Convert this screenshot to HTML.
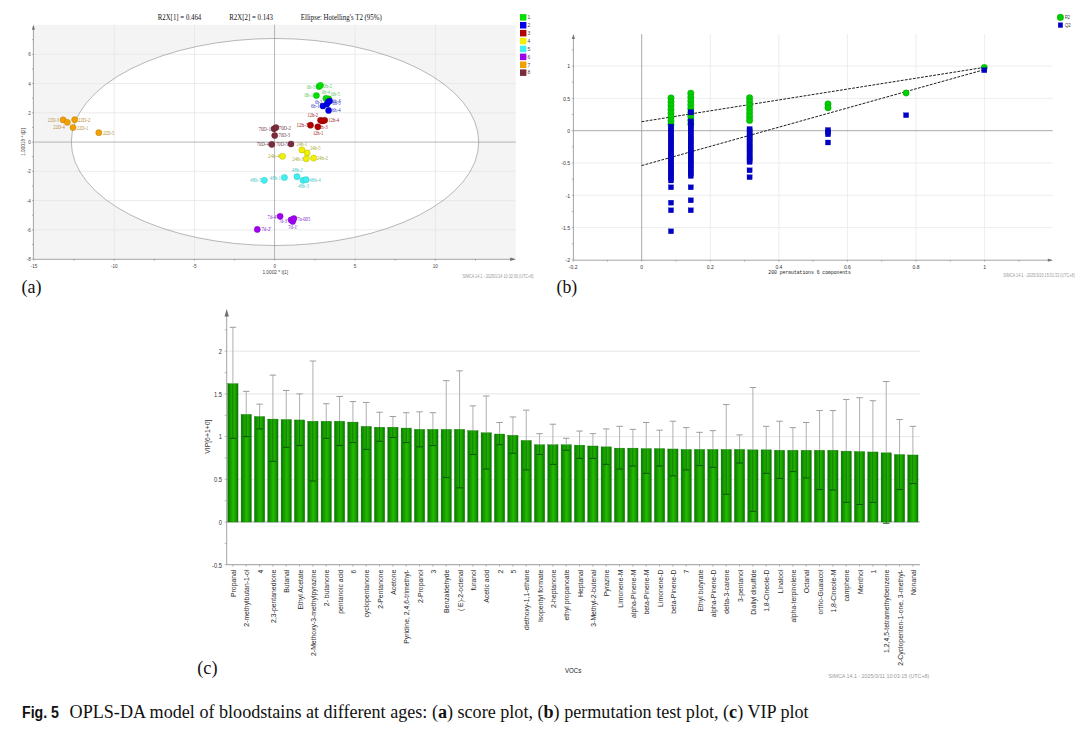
<!DOCTYPE html><html><head><meta charset="utf-8"><style>html,body{margin:0;padding:0;background:#fff;}svg{display:block;}</style></head><body>
<svg width="1090" height="730" viewBox="0 0 1090 730">
<rect width="1090" height="730" fill="#fff"/>
<defs><clipPath id="clipA"><rect x="33.4" y="24.7" width="482.4" height="234.60000000000002"/></clipPath></defs>
<rect x="33.4" y="24.7" width="482.4" height="234.60000000000002" fill="#f4f4f4"/>
<g clip-path="url(#clipA)"><ellipse cx="275" cy="142" rx="203.7" ry="103.5" fill="#fff"/></g>
<line x1="114.24" y1="24.7" x2="114.24" y2="259.3" stroke="#e6e6e6" stroke-width="0.8"/>
<line x1="194.52" y1="24.7" x2="194.52" y2="259.3" stroke="#e6e6e6" stroke-width="0.8"/>
<line x1="355.08" y1="24.7" x2="355.08" y2="259.3" stroke="#e6e6e6" stroke-width="0.8"/>
<line x1="435.36" y1="24.7" x2="435.36" y2="259.3" stroke="#e6e6e6" stroke-width="0.8"/>
<line x1="33.4" y1="229.86" x2="515.8" y2="229.86" stroke="#e6e6e6" stroke-width="0.8"/>
<line x1="33.4" y1="200.60" x2="515.8" y2="200.60" stroke="#e6e6e6" stroke-width="0.8"/>
<line x1="33.4" y1="171.34" x2="515.8" y2="171.34" stroke="#e6e6e6" stroke-width="0.8"/>
<line x1="33.4" y1="112.82" x2="515.8" y2="112.82" stroke="#e6e6e6" stroke-width="0.8"/>
<line x1="33.4" y1="83.56" x2="515.8" y2="83.56" stroke="#e6e6e6" stroke-width="0.8"/>
<line x1="33.4" y1="54.30" x2="515.8" y2="54.30" stroke="#e6e6e6" stroke-width="0.8"/>
<line x1="274.55" y1="24.7" x2="274.55" y2="259.3" stroke="#aaaaaa" stroke-width="0.85"/>
<line x1="33.4" y1="142.08" x2="515.8" y2="142.08" stroke="#aaaaaa" stroke-width="0.85"/>
<g clip-path="url(#clipA)"><ellipse cx="275" cy="142" rx="203.7" ry="103.5" fill="none" stroke="#8a8a8a" stroke-width="0.6"/></g>
<line x1="33.4" y1="26.7" x2="33.4" y2="259.3" stroke="#9a9a9a" stroke-width="0.9"/>
<line x1="33.4" y1="259.3" x2="514.8" y2="259.3" stroke="#9a9a9a" stroke-width="0.9"/>
<path d="M31.799999999999997,29.7 L33.4,24.7 L35.0,29.7 Z" fill="#777"/>
<path d="M510.19999999999993,257.6 L515.8,259.3 L510.19999999999993,261.0 Z" fill="#707070"/>
<line x1="33.96" y1="259.3" x2="33.96" y2="260.8" stroke="#888" stroke-width="0.6"/>
<line x1="74.10" y1="259.3" x2="74.10" y2="260.8" stroke="#888" stroke-width="0.6"/>
<line x1="114.24" y1="259.3" x2="114.24" y2="260.8" stroke="#888" stroke-width="0.6"/>
<line x1="154.38" y1="259.3" x2="154.38" y2="260.8" stroke="#888" stroke-width="0.6"/>
<line x1="194.52" y1="259.3" x2="194.52" y2="260.8" stroke="#888" stroke-width="0.6"/>
<line x1="234.66" y1="259.3" x2="234.66" y2="260.8" stroke="#888" stroke-width="0.6"/>
<line x1="274.80" y1="259.3" x2="274.80" y2="260.8" stroke="#888" stroke-width="0.6"/>
<line x1="314.94" y1="259.3" x2="314.94" y2="260.8" stroke="#888" stroke-width="0.6"/>
<line x1="355.08" y1="259.3" x2="355.08" y2="260.8" stroke="#888" stroke-width="0.6"/>
<line x1="395.22" y1="259.3" x2="395.22" y2="260.8" stroke="#888" stroke-width="0.6"/>
<line x1="435.36" y1="259.3" x2="435.36" y2="260.8" stroke="#888" stroke-width="0.6"/>
<line x1="475.50" y1="259.3" x2="475.50" y2="260.8" stroke="#888" stroke-width="0.6"/>
<line x1="31.9" y1="259.12" x2="33.4" y2="259.12" stroke="#888" stroke-width="0.6"/>
<line x1="31.9" y1="244.49" x2="33.4" y2="244.49" stroke="#888" stroke-width="0.6"/>
<line x1="31.9" y1="229.86" x2="33.4" y2="229.86" stroke="#888" stroke-width="0.6"/>
<line x1="31.9" y1="215.23" x2="33.4" y2="215.23" stroke="#888" stroke-width="0.6"/>
<line x1="31.9" y1="200.60" x2="33.4" y2="200.60" stroke="#888" stroke-width="0.6"/>
<line x1="31.9" y1="185.97" x2="33.4" y2="185.97" stroke="#888" stroke-width="0.6"/>
<line x1="31.9" y1="171.34" x2="33.4" y2="171.34" stroke="#888" stroke-width="0.6"/>
<line x1="31.9" y1="156.71" x2="33.4" y2="156.71" stroke="#888" stroke-width="0.6"/>
<line x1="31.9" y1="142.08" x2="33.4" y2="142.08" stroke="#888" stroke-width="0.6"/>
<line x1="31.9" y1="127.45" x2="33.4" y2="127.45" stroke="#888" stroke-width="0.6"/>
<line x1="31.9" y1="112.82" x2="33.4" y2="112.82" stroke="#888" stroke-width="0.6"/>
<line x1="31.9" y1="98.19" x2="33.4" y2="98.19" stroke="#888" stroke-width="0.6"/>
<line x1="31.9" y1="83.56" x2="33.4" y2="83.56" stroke="#888" stroke-width="0.6"/>
<line x1="31.9" y1="68.93" x2="33.4" y2="68.93" stroke="#888" stroke-width="0.6"/>
<line x1="31.9" y1="54.30" x2="33.4" y2="54.30" stroke="#888" stroke-width="0.6"/>
<line x1="31.9" y1="39.67" x2="33.4" y2="39.67" stroke="#888" stroke-width="0.6"/>
<text transform="translate(33.96,268.3) scale(0.82,1)" font-family="'Liberation Sans', sans-serif" font-size="5.6" fill="#444" text-anchor="middle">-15</text>
<text transform="translate(114.24,268.3) scale(0.82,1)" font-family="'Liberation Sans', sans-serif" font-size="5.6" fill="#444" text-anchor="middle">-10</text>
<text transform="translate(194.52,268.3) scale(0.82,1)" font-family="'Liberation Sans', sans-serif" font-size="5.6" fill="#444" text-anchor="middle">-5</text>
<text transform="translate(274.80,268.3) scale(0.82,1)" font-family="'Liberation Sans', sans-serif" font-size="5.6" fill="#444" text-anchor="middle">0</text>
<text transform="translate(355.08,268.3) scale(0.82,1)" font-family="'Liberation Sans', sans-serif" font-size="5.6" fill="#444" text-anchor="middle">5</text>
<text transform="translate(435.36,268.3) scale(0.82,1)" font-family="'Liberation Sans', sans-serif" font-size="5.6" fill="#444" text-anchor="middle">10</text>
<text transform="translate(30.9,261.12) scale(0.82,1)" font-family="'Liberation Sans', sans-serif" font-size="5.6" fill="#444" text-anchor="end">-8</text>
<text transform="translate(30.9,231.86) scale(0.82,1)" font-family="'Liberation Sans', sans-serif" font-size="5.6" fill="#444" text-anchor="end">-6</text>
<text transform="translate(30.9,202.60) scale(0.82,1)" font-family="'Liberation Sans', sans-serif" font-size="5.6" fill="#444" text-anchor="end">-4</text>
<text transform="translate(30.9,173.34) scale(0.82,1)" font-family="'Liberation Sans', sans-serif" font-size="5.6" fill="#444" text-anchor="end">-2</text>
<text transform="translate(30.9,144.08) scale(0.82,1)" font-family="'Liberation Sans', sans-serif" font-size="5.6" fill="#444" text-anchor="end">0</text>
<text transform="translate(30.9,114.82) scale(0.82,1)" font-family="'Liberation Sans', sans-serif" font-size="5.6" fill="#444" text-anchor="end">2</text>
<text transform="translate(30.9,85.56) scale(0.82,1)" font-family="'Liberation Sans', sans-serif" font-size="5.6" fill="#444" text-anchor="end">4</text>
<text transform="translate(30.9,56.30) scale(0.82,1)" font-family="'Liberation Sans', sans-serif" font-size="5.6" fill="#444" text-anchor="end">6</text>
<text x="262.4" y="274.4" font-family="'Liberation Sans', sans-serif" font-size="5" fill="#444" textLength="25.6" lengthAdjust="spacingAndGlyphs">1.0002 * t[1]</text>
<text transform="translate(25.3,155.8) rotate(-90)" font-family="'Liberation Sans', sans-serif" font-size="4.8" fill="#444" textLength="27.8" lengthAdjust="spacingAndGlyphs">1.00018 * t[2]</text>
<text x="462.4" y="277.8" font-family="'Liberation Sans', sans-serif" font-size="4.6" fill="#999" textLength="71.2" lengthAdjust="spacingAndGlyphs">SIMCA 14.1 - 2025/1/14 10:32:00 (UTC+8)</text>
<text x="157.7" y="20.1" font-family='"Liberation Serif", serif' font-size="7.2" fill="#111" textLength="43.6" lengthAdjust="spacingAndGlyphs">R2X[1] = 0.464</text>
<text x="229.3" y="20.1" font-family='"Liberation Serif", serif' font-size="7.2" fill="#111" textLength="43.6" lengthAdjust="spacingAndGlyphs">R2X[2] = 0.143</text>
<text x="300.8" y="20.1" font-family='"Liberation Serif", serif' font-size="7.2" fill="#111" textLength="81" lengthAdjust="spacingAndGlyphs">Ellipse: Hotelling's T2 (95%)</text>
<rect x="520.0" y="14.10" width="6.4" height="6.5" fill="#00e000"/>
<text x="527.5" y="19.10" font-family="'Liberation Sans', sans-serif" font-size="5" fill="#444">1</text>
<rect x="520.0" y="22.00" width="6.4" height="6.5" fill="#0000e8"/>
<text x="527.5" y="27.00" font-family="'Liberation Sans', sans-serif" font-size="5" fill="#444">2</text>
<rect x="520.0" y="29.90" width="6.4" height="6.5" fill="#b00000"/>
<text x="527.5" y="34.90" font-family="'Liberation Sans', sans-serif" font-size="5" fill="#444">3</text>
<rect x="520.0" y="37.80" width="6.4" height="6.5" fill="#f0f000"/>
<text x="527.5" y="42.80" font-family="'Liberation Sans', sans-serif" font-size="5" fill="#444">4</text>
<rect x="520.0" y="45.70" width="6.4" height="6.5" fill="#40f0f0"/>
<text x="527.5" y="50.70" font-family="'Liberation Sans', sans-serif" font-size="5" fill="#444">5</text>
<rect x="520.0" y="53.60" width="6.4" height="6.5" fill="#a000f0"/>
<text x="527.5" y="58.60" font-family="'Liberation Sans', sans-serif" font-size="5" fill="#444">6</text>
<rect x="520.0" y="61.50" width="6.4" height="6.5" fill="#f0a000"/>
<text x="527.5" y="66.50" font-family="'Liberation Sans', sans-serif" font-size="5" fill="#444">7</text>
<rect x="520.0" y="69.40" width="6.4" height="6.5" fill="#7a2c3c"/>
<text x="527.5" y="74.40" font-family="'Liberation Sans', sans-serif" font-size="5" fill="#444">8</text>
<text x="306.7" y="88.70" font-family='"Liberation Serif", serif' font-size="6.2" fill="#66c466" textLength="8.3" lengthAdjust="spacingAndGlyphs">0h-3</text>
<text x="323.3" y="87.90" font-family='"Liberation Serif", serif' font-size="6.2" fill="#66c466" textLength="8.7" lengthAdjust="spacingAndGlyphs">0h-2</text>
<text x="304.4" y="97.20" font-family='"Liberation Serif", serif' font-size="6.2" fill="#66c466" textLength="8.9" lengthAdjust="spacingAndGlyphs">0h-1</text>
<text x="321.8" y="93.90" font-family='"Liberation Serif", serif' font-size="6.2" fill="#66c466" textLength="8.2" lengthAdjust="spacingAndGlyphs">0h-4</text>
<text x="331" y="96.40" font-family='"Liberation Serif", serif' font-size="6.2" fill="#66c466" textLength="9.0" lengthAdjust="spacingAndGlyphs">0h-5</text>
<text x="315" y="103.90" font-family='"Liberation Serif", serif' font-size="6.2" fill="#3535c0" textLength="7.0" lengthAdjust="spacingAndGlyphs">6h-2</text>
<text x="331.8" y="103.30" font-family='"Liberation Serif", serif' font-size="6.2" fill="#3535c0" textLength="8.9" lengthAdjust="spacingAndGlyphs">6h-3</text>
<text x="332.2" y="104.50" font-family='"Liberation Serif", serif' font-size="6.2" fill="#3535c0" textLength="8.5" lengthAdjust="spacingAndGlyphs">6h-5</text>
<text x="311" y="108.00" font-family='"Liberation Serif", serif' font-size="6.2" fill="#3535c0" textLength="8.5" lengthAdjust="spacingAndGlyphs">6h-1</text>
<text x="332" y="112.10" font-family='"Liberation Serif", serif' font-size="6.2" fill="#3535c0" textLength="8.7" lengthAdjust="spacingAndGlyphs">6h-4</text>
<text x="307.4" y="116.70" font-family='"Liberation Serif", serif' font-size="6.2" fill="#a02020" textLength="10.6" lengthAdjust="spacingAndGlyphs">12h-2</text>
<text x="328.4" y="122.10" font-family='"Liberation Serif", serif' font-size="6.2" fill="#a02020" textLength="10.6" lengthAdjust="spacingAndGlyphs">12h-4</text>
<text x="296.4" y="127.20" font-family='"Liberation Serif", serif' font-size="6.2" fill="#a02020" textLength="12.1" lengthAdjust="spacingAndGlyphs">12h-5</text>
<text x="316.5" y="129.00" font-family='"Liberation Serif", serif' font-size="6.2" fill="#a02020" textLength="11.2" lengthAdjust="spacingAndGlyphs">12h-3</text>
<text x="312.9" y="135.40" font-family='"Liberation Serif", serif' font-size="6.2" fill="#a02020" textLength="10.4" lengthAdjust="spacingAndGlyphs">12h-1</text>
<text x="258.5" y="130.90" font-family='"Liberation Serif", serif' font-size="6.2" fill="#704050" textLength="12.3" lengthAdjust="spacingAndGlyphs">70D-1</text>
<text x="278.8" y="129.90" font-family='"Liberation Serif", serif' font-size="6.2" fill="#704050" textLength="12.2" lengthAdjust="spacingAndGlyphs">70D-2</text>
<text x="278.4" y="137.20" font-family='"Liberation Serif", serif' font-size="6.2" fill="#704050" textLength="11.6" lengthAdjust="spacingAndGlyphs">70D-3</text>
<text x="256.7" y="146.10" font-family='"Liberation Serif", serif' font-size="6.2" fill="#704050" textLength="12.1" lengthAdjust="spacingAndGlyphs">70D-4</text>
<text x="275.9" y="146.10" font-family='"Liberation Serif", serif' font-size="6.2" fill="#704050" textLength="12.1" lengthAdjust="spacingAndGlyphs">70D-5</text>
<text x="296.4" y="145.70" font-family='"Liberation Serif", serif' font-size="6.2" fill="#a8a838" textLength="10.7" lengthAdjust="spacingAndGlyphs">24h-1</text>
<text x="309.9" y="149.70" font-family='"Liberation Serif", serif' font-size="6.2" fill="#a8a838" textLength="10.6" lengthAdjust="spacingAndGlyphs">24h-5</text>
<text x="268" y="158.40" font-family='"Liberation Serif", serif' font-size="6.2" fill="#a8a838" textLength="11.7" lengthAdjust="spacingAndGlyphs">24h-4</text>
<text x="292.3" y="160.70" font-family='"Liberation Serif", serif' font-size="6.2" fill="#a8a838" textLength="11.4" lengthAdjust="spacingAndGlyphs">24h-3</text>
<text x="316.7" y="160.10" font-family='"Liberation Serif", serif' font-size="6.2" fill="#a8a838" textLength="11.3" lengthAdjust="spacingAndGlyphs">24h-2</text>
<text x="291.8" y="172.40" font-family='"Liberation Serif", serif' font-size="6.2" fill="#50c8c8" textLength="10.9" lengthAdjust="spacingAndGlyphs">48h-2</text>
<text x="250" y="182.00" font-family='"Liberation Serif", serif' font-size="6.2" fill="#50c8c8" textLength="11.4" lengthAdjust="spacingAndGlyphs">48h-5</text>
<text x="269.8" y="179.50" font-family='"Liberation Serif", serif' font-size="6.2" fill="#50c8c8" textLength="11.0" lengthAdjust="spacingAndGlyphs">48h-1</text>
<text x="309.3" y="181.70" font-family='"Liberation Serif", serif' font-size="6.2" fill="#50c8c8" textLength="11.3" lengthAdjust="spacingAndGlyphs">48h-4</text>
<text x="297.9" y="188.20" font-family='"Liberation Serif", serif' font-size="6.2" fill="#50c8c8" textLength="11.0" lengthAdjust="spacingAndGlyphs">48h-3</text>
<text x="267.6" y="218.50" font-family='"Liberation Serif", serif' font-size="6.2" fill="#7a25c8" textLength="9.6" lengthAdjust="spacingAndGlyphs">7d-4'</text>
<text x="278.9" y="222.50" font-family='"Liberation Serif", serif' font-size="6.2" fill="#7a25c8" textLength="8.7" lengthAdjust="spacingAndGlyphs">7d-3'</text>
<text x="297.2" y="221.10" font-family='"Liberation Serif", serif' font-size="6.2" fill="#7a25c8" textLength="13.0" lengthAdjust="spacingAndGlyphs">7u-005</text>
<text x="288.2" y="229.00" font-family='"Liberation Serif", serif' font-size="6.2" fill="#7a25c8" textLength="9.5" lengthAdjust="spacingAndGlyphs">7d-1'</text>
<text x="261.4" y="231.30" font-family='"Liberation Serif", serif' font-size="6.2" fill="#7a25c8" textLength="9.8" lengthAdjust="spacingAndGlyphs">7d-2'</text>
<text x="47.8" y="122.00" font-family='"Liberation Serif", serif' font-size="6.2" fill="#b88a3a" textLength="11.2" lengthAdjust="spacingAndGlyphs">22D-3</text>
<text x="78" y="121.80" font-family='"Liberation Serif", serif' font-size="6.2" fill="#b88a3a" textLength="12.4" lengthAdjust="spacingAndGlyphs">22D-2</text>
<text x="53.2" y="129.40" font-family='"Liberation Serif", serif' font-size="6.2" fill="#b88a3a" textLength="11.6" lengthAdjust="spacingAndGlyphs">22D-4</text>
<text x="76.7" y="129.80" font-family='"Liberation Serif", serif' font-size="6.2" fill="#b88a3a" textLength="11.6" lengthAdjust="spacingAndGlyphs">22D-1</text>
<text x="102.9" y="134.80" font-family='"Liberation Serif", serif' font-size="6.2" fill="#b88a3a" textLength="11.4" lengthAdjust="spacingAndGlyphs">22D-5</text>
<circle cx="63.1" cy="119.9" r="3.1" fill="#f0a000" stroke="#b07000" stroke-width="0.35"/>
<circle cx="67.3" cy="122.3" r="3.1" fill="#f0a000" stroke="#b07000" stroke-width="0.35"/>
<circle cx="74.7" cy="119.7" r="3.1" fill="#f0a000" stroke="#b07000" stroke-width="0.35"/>
<circle cx="73" cy="127.5" r="3.1" fill="#f0a000" stroke="#b07000" stroke-width="0.35"/>
<circle cx="98.8" cy="132.7" r="3.1" fill="#f0a000" stroke="#b07000" stroke-width="0.35"/>
<circle cx="319.0" cy="86.6" r="3.1" fill="#00e000" stroke="#00a000" stroke-width="0.35"/>
<circle cx="320.4" cy="85.4" r="3.1" fill="#00e000" stroke="#00a000" stroke-width="0.35"/>
<circle cx="316.4" cy="95.5" r="3.1" fill="#00e000" stroke="#00a000" stroke-width="0.35"/>
<circle cx="325.9" cy="98.4" r="3.1" fill="#00e000" stroke="#00a000" stroke-width="0.35"/>
<circle cx="328.7" cy="98.9" r="3.1" fill="#00e000" stroke="#00a000" stroke-width="0.35"/>
<circle cx="328.4" cy="101.8" r="3.1" fill="#0000e8" stroke="#0000a0" stroke-width="0.35"/>
<circle cx="327.0" cy="104.0" r="3.1" fill="#0000e8" stroke="#0000a0" stroke-width="0.35"/>
<circle cx="322.9" cy="106" r="3.1" fill="#0000e8" stroke="#0000a0" stroke-width="0.35"/>
<circle cx="328.6" cy="110.4" r="3.1" fill="#0000e8" stroke="#0000a0" stroke-width="0.35"/>
<circle cx="329.5" cy="101.0" r="3.1" fill="#0000e8" stroke="#0000a0" stroke-width="0.35"/>
<circle cx="320.5" cy="120.3" r="3.1" fill="#b00000" stroke="#800000" stroke-width="0.35"/>
<circle cx="324.7" cy="120.3" r="3.1" fill="#b00000" stroke="#800000" stroke-width="0.35"/>
<circle cx="322.5" cy="121.0" r="3.1" fill="#b00000" stroke="#800000" stroke-width="0.35"/>
<circle cx="310.5" cy="125.2" r="3.1" fill="#b00000" stroke="#800000" stroke-width="0.35"/>
<circle cx="317.8" cy="126.8" r="3.1" fill="#b00000" stroke="#800000" stroke-width="0.35"/>
<circle cx="274.0" cy="128.8" r="3.1" fill="#7a2c3c" stroke="#5a1a28" stroke-width="0.35"/>
<circle cx="275.9" cy="127.6" r="3.1" fill="#7a2c3c" stroke="#5a1a28" stroke-width="0.35"/>
<circle cx="274.7" cy="135.5" r="3.1" fill="#7a2c3c" stroke="#5a1a28" stroke-width="0.35"/>
<circle cx="271.8" cy="144.4" r="3.1" fill="#7a2c3c" stroke="#5a1a28" stroke-width="0.35"/>
<circle cx="291" cy="144" r="3.1" fill="#7a2c3c" stroke="#5a1a28" stroke-width="0.35"/>
<circle cx="301.9" cy="149.9" r="3.1" fill="#f0f000" stroke="#a0a000" stroke-width="0.35"/>
<circle cx="307.1" cy="152.9" r="3.1" fill="#f0f000" stroke="#a0a000" stroke-width="0.35"/>
<circle cx="282.5" cy="156.3" r="3.1" fill="#f0f000" stroke="#a0a000" stroke-width="0.35"/>
<circle cx="306.4" cy="158.8" r="3.1" fill="#f0f000" stroke="#a0a000" stroke-width="0.35"/>
<circle cx="313.6" cy="158.1" r="3.1" fill="#f0f000" stroke="#a0a000" stroke-width="0.35"/>
<circle cx="264.3" cy="180.3" r="3.1" fill="#40f0f0" stroke="#20b0b0" stroke-width="0.35"/>
<circle cx="284.4" cy="177.5" r="3.1" fill="#40f0f0" stroke="#20b0b0" stroke-width="0.35"/>
<circle cx="297" cy="176.7" r="3.1" fill="#40f0f0" stroke="#20b0b0" stroke-width="0.35"/>
<circle cx="303" cy="180.3" r="3.1" fill="#40f0f0" stroke="#20b0b0" stroke-width="0.35"/>
<circle cx="306.1" cy="179.7" r="3.1" fill="#40f0f0" stroke="#20b0b0" stroke-width="0.35"/>
<circle cx="280.1" cy="216.3" r="3.1" fill="#a000f0" stroke="#7000b0" stroke-width="0.35"/>
<circle cx="291.1" cy="219.9" r="3.1" fill="#a000f0" stroke="#7000b0" stroke-width="0.35"/>
<circle cx="292.7" cy="221.4" r="3.1" fill="#a000f0" stroke="#7000b0" stroke-width="0.35"/>
<circle cx="293.9" cy="218.5" r="3.1" fill="#a000f0" stroke="#7000b0" stroke-width="0.35"/>
<circle cx="257.3" cy="229.4" r="3.1" fill="#a000f0" stroke="#7000b0" stroke-width="0.35"/>
<line x1="710.28" y1="34.1" x2="710.28" y2="260.2" stroke="#e8e8e8" stroke-width="0.8"/>
<line x1="778.86" y1="34.1" x2="778.86" y2="260.2" stroke="#e8e8e8" stroke-width="0.8"/>
<line x1="847.44" y1="34.1" x2="847.44" y2="260.2" stroke="#e8e8e8" stroke-width="0.8"/>
<line x1="916.02" y1="34.1" x2="916.02" y2="260.2" stroke="#e8e8e8" stroke-width="0.8"/>
<line x1="984.60" y1="34.1" x2="984.60" y2="260.2" stroke="#e8e8e8" stroke-width="0.8"/>
<line x1="573.4" y1="227.60" x2="1052.8" y2="227.60" stroke="#e8e8e8" stroke-width="0.8"/>
<line x1="573.4" y1="195.30" x2="1052.8" y2="195.30" stroke="#e8e8e8" stroke-width="0.8"/>
<line x1="573.4" y1="163.00" x2="1052.8" y2="163.00" stroke="#e8e8e8" stroke-width="0.8"/>
<line x1="573.4" y1="98.40" x2="1052.8" y2="98.40" stroke="#e8e8e8" stroke-width="0.8"/>
<line x1="573.4" y1="66.10" x2="1052.8" y2="66.10" stroke="#e8e8e8" stroke-width="0.8"/>
<line x1="641.70" y1="34.1" x2="641.70" y2="260.2" stroke="#a0a0a0" stroke-width="0.9"/>
<line x1="573.4" y1="130.70" x2="1052.8" y2="130.70" stroke="#a0a0a0" stroke-width="0.9"/>
<line x1="573.4" y1="36.1" x2="573.4" y2="260.2" stroke="#9a9a9a" stroke-width="0.9"/>
<line x1="573.4" y1="260.2" x2="1051.8" y2="260.2" stroke="#9a9a9a" stroke-width="0.9"/>
<path d="M571.8,39.1 L573.4,34.1 L575.0,39.1 Z" fill="#777"/>
<path d="M1047.8,258.59999999999997 L1052.8,260.2 L1047.8,261.8 Z" fill="#777"/>
<line x1="573.12" y1="260.2" x2="573.12" y2="261.7" stroke="#888" stroke-width="0.6"/>
<line x1="607.41" y1="260.2" x2="607.41" y2="261.7" stroke="#888" stroke-width="0.6"/>
<line x1="641.70" y1="260.2" x2="641.70" y2="261.7" stroke="#888" stroke-width="0.6"/>
<line x1="675.99" y1="260.2" x2="675.99" y2="261.7" stroke="#888" stroke-width="0.6"/>
<line x1="710.28" y1="260.2" x2="710.28" y2="261.7" stroke="#888" stroke-width="0.6"/>
<line x1="744.57" y1="260.2" x2="744.57" y2="261.7" stroke="#888" stroke-width="0.6"/>
<line x1="778.86" y1="260.2" x2="778.86" y2="261.7" stroke="#888" stroke-width="0.6"/>
<line x1="813.15" y1="260.2" x2="813.15" y2="261.7" stroke="#888" stroke-width="0.6"/>
<line x1="847.44" y1="260.2" x2="847.44" y2="261.7" stroke="#888" stroke-width="0.6"/>
<line x1="881.73" y1="260.2" x2="881.73" y2="261.7" stroke="#888" stroke-width="0.6"/>
<line x1="916.02" y1="260.2" x2="916.02" y2="261.7" stroke="#888" stroke-width="0.6"/>
<line x1="950.31" y1="260.2" x2="950.31" y2="261.7" stroke="#888" stroke-width="0.6"/>
<line x1="984.60" y1="260.2" x2="984.60" y2="261.7" stroke="#888" stroke-width="0.6"/>
<line x1="1018.89" y1="260.2" x2="1018.89" y2="261.7" stroke="#888" stroke-width="0.6"/>
<line x1="571.9" y1="259.90" x2="573.4" y2="259.90" stroke="#888" stroke-width="0.6"/>
<line x1="571.9" y1="243.75" x2="573.4" y2="243.75" stroke="#888" stroke-width="0.6"/>
<line x1="571.9" y1="227.60" x2="573.4" y2="227.60" stroke="#888" stroke-width="0.6"/>
<line x1="571.9" y1="211.45" x2="573.4" y2="211.45" stroke="#888" stroke-width="0.6"/>
<line x1="571.9" y1="195.30" x2="573.4" y2="195.30" stroke="#888" stroke-width="0.6"/>
<line x1="571.9" y1="179.15" x2="573.4" y2="179.15" stroke="#888" stroke-width="0.6"/>
<line x1="571.9" y1="163.00" x2="573.4" y2="163.00" stroke="#888" stroke-width="0.6"/>
<line x1="571.9" y1="146.85" x2="573.4" y2="146.85" stroke="#888" stroke-width="0.6"/>
<line x1="571.9" y1="130.70" x2="573.4" y2="130.70" stroke="#888" stroke-width="0.6"/>
<line x1="571.9" y1="114.55" x2="573.4" y2="114.55" stroke="#888" stroke-width="0.6"/>
<line x1="571.9" y1="98.40" x2="573.4" y2="98.40" stroke="#888" stroke-width="0.6"/>
<line x1="571.9" y1="82.25" x2="573.4" y2="82.25" stroke="#888" stroke-width="0.6"/>
<line x1="571.9" y1="66.10" x2="573.4" y2="66.10" stroke="#888" stroke-width="0.6"/>
<line x1="571.9" y1="49.95" x2="573.4" y2="49.95" stroke="#888" stroke-width="0.6"/>
<text x="573.12" y="268.5" font-family="'Liberation Sans', sans-serif" font-size="5" fill="#333" text-anchor="middle">-0.2</text>
<text x="641.70" y="268.5" font-family="'Liberation Sans', sans-serif" font-size="5" fill="#333" text-anchor="middle">0</text>
<text x="710.28" y="268.5" font-family="'Liberation Sans', sans-serif" font-size="5" fill="#333" text-anchor="middle">0.2</text>
<text x="778.86" y="268.5" font-family="'Liberation Sans', sans-serif" font-size="5" fill="#333" text-anchor="middle">0.4</text>
<text x="847.44" y="268.5" font-family="'Liberation Sans', sans-serif" font-size="5" fill="#333" text-anchor="middle">0.6</text>
<text x="916.02" y="268.5" font-family="'Liberation Sans', sans-serif" font-size="5" fill="#333" text-anchor="middle">0.8</text>
<text x="984.60" y="268.5" font-family="'Liberation Sans', sans-serif" font-size="5" fill="#333" text-anchor="middle">1</text>
<text x="570.2" y="262.10" font-family="'Liberation Sans', sans-serif" font-size="5.2" fill="#383838" text-anchor="end">-2</text>
<text x="570.2" y="229.80" font-family="'Liberation Sans', sans-serif" font-size="5.2" fill="#383838" text-anchor="end">-1.5</text>
<text x="570.2" y="197.50" font-family="'Liberation Sans', sans-serif" font-size="5.2" fill="#383838" text-anchor="end">-1</text>
<text x="570.2" y="165.20" font-family="'Liberation Sans', sans-serif" font-size="5.2" fill="#383838" text-anchor="end">-0.5</text>
<text x="570.2" y="132.90" font-family="'Liberation Sans', sans-serif" font-size="5.2" fill="#383838" text-anchor="end">0</text>
<text x="570.2" y="100.60" font-family="'Liberation Sans', sans-serif" font-size="5.2" fill="#383838" text-anchor="end">0.5</text>
<text x="570.2" y="68.30" font-family="'Liberation Sans', sans-serif" font-size="5.2" fill="#383838" text-anchor="end">1</text>
<text x="768.3" y="273.6" font-family='"Liberation Mono", monospace' font-size="5.4" fill="#222" textLength="82.5" lengthAdjust="spacingAndGlyphs">200 permutations 6 components</text>
<text x="1003.3" y="277.3" font-family="'Liberation Sans', sans-serif" font-size="4.5" fill="#999" textLength="71.6" lengthAdjust="spacingAndGlyphs">SIMCA 14.1 - 2025/3/20 15:31:33 (UTC+8)</text>
<circle cx="1060.4" cy="17.4" r="3.3" fill="#00cc00" stroke="#00a000" stroke-width="0.3"/>
<text x="1065" y="18.9" font-family="'Liberation Sans', sans-serif" font-size="5.2" fill="#333" textLength="4.9" lengthAdjust="spacingAndGlyphs">R2</text>
<rect x="1058.1" y="22.5" width="4.7" height="5.2" fill="#0000cc"/>
<text x="1065" y="26.9" font-family="'Liberation Sans', sans-serif" font-size="5.2" fill="#333" textLength="5.7" lengthAdjust="spacingAndGlyphs">Q2</text>
<line x1="641.6" y1="121.7" x2="984.2" y2="67.4" stroke="#111" stroke-width="0.95" stroke-dasharray="2.8,1.3"/>
<line x1="641.6" y1="165.6" x2="984.2" y2="69.7" stroke="#111" stroke-width="0.95" stroke-dasharray="2.8,1.3"/>
<circle cx="671" cy="97.90" r="3.2" fill="#00cc00" stroke="#009a00" stroke-width="0.4"/>
<circle cx="671" cy="101.70" r="3.2" fill="#00cc00" stroke="#009a00" stroke-width="0.4"/>
<circle cx="671" cy="105.50" r="3.2" fill="#00cc00" stroke="#009a00" stroke-width="0.4"/>
<circle cx="671" cy="109.30" r="3.2" fill="#00cc00" stroke="#009a00" stroke-width="0.4"/>
<circle cx="671" cy="113.10" r="3.2" fill="#00cc00" stroke="#009a00" stroke-width="0.4"/>
<circle cx="671" cy="116.90" r="3.2" fill="#00cc00" stroke="#009a00" stroke-width="0.4"/>
<circle cx="671" cy="120.70" r="3.2" fill="#00cc00" stroke="#009a00" stroke-width="0.4"/>
<circle cx="671" cy="124.50" r="3.2" fill="#00cc00" stroke="#009a00" stroke-width="0.4"/>
<rect x="668.40" y="124.00" width="5.2" height="5" fill="#0000c8" stroke="#0000a0" stroke-width="0.25"/>
<rect x="668.40" y="126.16" width="5.2" height="5" fill="#0000c8" stroke="#0000a0" stroke-width="0.25"/>
<rect x="668.40" y="128.32" width="5.2" height="5" fill="#0000c8" stroke="#0000a0" stroke-width="0.25"/>
<rect x="668.40" y="130.48" width="5.2" height="5" fill="#0000c8" stroke="#0000a0" stroke-width="0.25"/>
<rect x="668.40" y="132.64" width="5.2" height="5" fill="#0000c8" stroke="#0000a0" stroke-width="0.25"/>
<rect x="668.40" y="134.80" width="5.2" height="5" fill="#0000c8" stroke="#0000a0" stroke-width="0.25"/>
<rect x="668.40" y="136.96" width="5.2" height="5" fill="#0000c8" stroke="#0000a0" stroke-width="0.25"/>
<rect x="668.40" y="139.12" width="5.2" height="5" fill="#0000c8" stroke="#0000a0" stroke-width="0.25"/>
<rect x="668.40" y="141.28" width="5.2" height="5" fill="#0000c8" stroke="#0000a0" stroke-width="0.25"/>
<rect x="668.40" y="143.44" width="5.2" height="5" fill="#0000c8" stroke="#0000a0" stroke-width="0.25"/>
<rect x="668.40" y="145.60" width="5.2" height="5" fill="#0000c8" stroke="#0000a0" stroke-width="0.25"/>
<rect x="668.40" y="147.76" width="5.2" height="5" fill="#0000c8" stroke="#0000a0" stroke-width="0.25"/>
<rect x="668.40" y="149.92" width="5.2" height="5" fill="#0000c8" stroke="#0000a0" stroke-width="0.25"/>
<rect x="668.40" y="152.08" width="5.2" height="5" fill="#0000c8" stroke="#0000a0" stroke-width="0.25"/>
<rect x="668.40" y="154.24" width="5.2" height="5" fill="#0000c8" stroke="#0000a0" stroke-width="0.25"/>
<rect x="668.40" y="156.40" width="5.2" height="5" fill="#0000c8" stroke="#0000a0" stroke-width="0.25"/>
<rect x="668.40" y="158.56" width="5.2" height="5" fill="#0000c8" stroke="#0000a0" stroke-width="0.25"/>
<rect x="668.40" y="160.72" width="5.2" height="5" fill="#0000c8" stroke="#0000a0" stroke-width="0.25"/>
<rect x="668.40" y="162.88" width="5.2" height="5" fill="#0000c8" stroke="#0000a0" stroke-width="0.25"/>
<rect x="668.40" y="165.04" width="5.2" height="5" fill="#0000c8" stroke="#0000a0" stroke-width="0.25"/>
<rect x="668.40" y="167.20" width="5.2" height="5" fill="#0000c8" stroke="#0000a0" stroke-width="0.25"/>
<rect x="668.40" y="169.36" width="5.2" height="5" fill="#0000c8" stroke="#0000a0" stroke-width="0.25"/>
<rect x="668.40" y="171.52" width="5.2" height="5" fill="#0000c8" stroke="#0000a0" stroke-width="0.25"/>
<rect x="668.40" y="173.68" width="5.2" height="5" fill="#0000c8" stroke="#0000a0" stroke-width="0.25"/>
<rect x="668.40" y="175.84" width="5.2" height="5" fill="#0000c8" stroke="#0000a0" stroke-width="0.25"/>
<rect x="668.40" y="178.00" width="5.2" height="5" fill="#0000c8" stroke="#0000a0" stroke-width="0.25"/>
<rect x="668.40" y="184.80" width="5.2" height="5" fill="#0000c8" stroke="#0000a0" stroke-width="0.25"/>
<rect x="668.40" y="200.20" width="5.2" height="5" fill="#0000c8" stroke="#0000a0" stroke-width="0.25"/>
<rect x="668.40" y="207.80" width="5.2" height="5" fill="#0000c8" stroke="#0000a0" stroke-width="0.25"/>
<rect x="668.40" y="228.80" width="5.2" height="5" fill="#0000c8" stroke="#0000a0" stroke-width="0.25"/>
<circle cx="690.8" cy="93.20" r="3.2" fill="#00cc00" stroke="#009a00" stroke-width="0.4"/>
<circle cx="690.8" cy="97.05" r="3.2" fill="#00cc00" stroke="#009a00" stroke-width="0.4"/>
<circle cx="690.8" cy="100.90" r="3.2" fill="#00cc00" stroke="#009a00" stroke-width="0.4"/>
<circle cx="690.8" cy="104.75" r="3.2" fill="#00cc00" stroke="#009a00" stroke-width="0.4"/>
<circle cx="690.8" cy="108.60" r="3.2" fill="#00cc00" stroke="#009a00" stroke-width="0.4"/>
<circle cx="690.8" cy="112.45" r="3.2" fill="#00cc00" stroke="#009a00" stroke-width="0.4"/>
<circle cx="690.8" cy="116.30" r="3.2" fill="#00cc00" stroke="#009a00" stroke-width="0.4"/>
<circle cx="690.8" cy="120.15" r="3.2" fill="#00cc00" stroke="#009a00" stroke-width="0.4"/>
<circle cx="690.8" cy="124.00" r="3.2" fill="#00cc00" stroke="#009a00" stroke-width="0.4"/>
<rect x="688.20" y="109.60" width="5.2" height="5" fill="#0000c8" stroke="#0000a0" stroke-width="0.25"/>
<rect x="688.20" y="110.00" width="5.2" height="5" fill="#0000c8" stroke="#0000a0" stroke-width="0.25"/>
<rect x="688.20" y="118.80" width="5.2" height="5" fill="#0000c8" stroke="#0000a0" stroke-width="0.25"/>
<rect x="688.20" y="120.99" width="5.2" height="5" fill="#0000c8" stroke="#0000a0" stroke-width="0.25"/>
<rect x="688.20" y="123.18" width="5.2" height="5" fill="#0000c8" stroke="#0000a0" stroke-width="0.25"/>
<rect x="688.20" y="125.36" width="5.2" height="5" fill="#0000c8" stroke="#0000a0" stroke-width="0.25"/>
<rect x="688.20" y="127.55" width="5.2" height="5" fill="#0000c8" stroke="#0000a0" stroke-width="0.25"/>
<rect x="688.20" y="129.74" width="5.2" height="5" fill="#0000c8" stroke="#0000a0" stroke-width="0.25"/>
<rect x="688.20" y="131.93" width="5.2" height="5" fill="#0000c8" stroke="#0000a0" stroke-width="0.25"/>
<rect x="688.20" y="134.12" width="5.2" height="5" fill="#0000c8" stroke="#0000a0" stroke-width="0.25"/>
<rect x="688.20" y="136.30" width="5.2" height="5" fill="#0000c8" stroke="#0000a0" stroke-width="0.25"/>
<rect x="688.20" y="138.49" width="5.2" height="5" fill="#0000c8" stroke="#0000a0" stroke-width="0.25"/>
<rect x="688.20" y="140.68" width="5.2" height="5" fill="#0000c8" stroke="#0000a0" stroke-width="0.25"/>
<rect x="688.20" y="142.87" width="5.2" height="5" fill="#0000c8" stroke="#0000a0" stroke-width="0.25"/>
<rect x="688.20" y="145.06" width="5.2" height="5" fill="#0000c8" stroke="#0000a0" stroke-width="0.25"/>
<rect x="688.20" y="147.24" width="5.2" height="5" fill="#0000c8" stroke="#0000a0" stroke-width="0.25"/>
<rect x="688.20" y="149.43" width="5.2" height="5" fill="#0000c8" stroke="#0000a0" stroke-width="0.25"/>
<rect x="688.20" y="151.62" width="5.2" height="5" fill="#0000c8" stroke="#0000a0" stroke-width="0.25"/>
<rect x="688.20" y="153.81" width="5.2" height="5" fill="#0000c8" stroke="#0000a0" stroke-width="0.25"/>
<rect x="688.20" y="156.00" width="5.2" height="5" fill="#0000c8" stroke="#0000a0" stroke-width="0.25"/>
<rect x="688.20" y="158.18" width="5.2" height="5" fill="#0000c8" stroke="#0000a0" stroke-width="0.25"/>
<rect x="688.20" y="160.37" width="5.2" height="5" fill="#0000c8" stroke="#0000a0" stroke-width="0.25"/>
<rect x="688.20" y="162.56" width="5.2" height="5" fill="#0000c8" stroke="#0000a0" stroke-width="0.25"/>
<rect x="688.20" y="164.75" width="5.2" height="5" fill="#0000c8" stroke="#0000a0" stroke-width="0.25"/>
<rect x="688.20" y="166.94" width="5.2" height="5" fill="#0000c8" stroke="#0000a0" stroke-width="0.25"/>
<rect x="688.20" y="169.12" width="5.2" height="5" fill="#0000c8" stroke="#0000a0" stroke-width="0.25"/>
<rect x="688.20" y="171.31" width="5.2" height="5" fill="#0000c8" stroke="#0000a0" stroke-width="0.25"/>
<rect x="688.20" y="173.50" width="5.2" height="5" fill="#0000c8" stroke="#0000a0" stroke-width="0.25"/>
<rect x="688.20" y="184.80" width="5.2" height="5" fill="#0000c8" stroke="#0000a0" stroke-width="0.25"/>
<rect x="688.20" y="197.80" width="5.2" height="5" fill="#0000c8" stroke="#0000a0" stroke-width="0.25"/>
<rect x="688.20" y="207.80" width="5.2" height="5" fill="#0000c8" stroke="#0000a0" stroke-width="0.25"/>
<circle cx="749.6" cy="97.80" r="3.2" fill="#00cc00" stroke="#009a00" stroke-width="0.4"/>
<circle cx="749.6" cy="101.57" r="3.2" fill="#00cc00" stroke="#009a00" stroke-width="0.4"/>
<circle cx="749.6" cy="105.33" r="3.2" fill="#00cc00" stroke="#009a00" stroke-width="0.4"/>
<circle cx="749.6" cy="109.10" r="3.2" fill="#00cc00" stroke="#009a00" stroke-width="0.4"/>
<circle cx="749.6" cy="112.87" r="3.2" fill="#00cc00" stroke="#009a00" stroke-width="0.4"/>
<circle cx="749.6" cy="116.63" r="3.2" fill="#00cc00" stroke="#009a00" stroke-width="0.4"/>
<circle cx="749.6" cy="120.40" r="3.2" fill="#00cc00" stroke="#009a00" stroke-width="0.4"/>
<rect x="747.00" y="126.50" width="5.2" height="5" fill="#0000c8" stroke="#0000a0" stroke-width="0.25"/>
<rect x="747.00" y="128.70" width="5.2" height="5" fill="#0000c8" stroke="#0000a0" stroke-width="0.25"/>
<rect x="747.00" y="130.90" width="5.2" height="5" fill="#0000c8" stroke="#0000a0" stroke-width="0.25"/>
<rect x="747.00" y="133.10" width="5.2" height="5" fill="#0000c8" stroke="#0000a0" stroke-width="0.25"/>
<rect x="747.00" y="135.30" width="5.2" height="5" fill="#0000c8" stroke="#0000a0" stroke-width="0.25"/>
<rect x="747.00" y="137.50" width="5.2" height="5" fill="#0000c8" stroke="#0000a0" stroke-width="0.25"/>
<rect x="747.00" y="139.70" width="5.2" height="5" fill="#0000c8" stroke="#0000a0" stroke-width="0.25"/>
<rect x="747.00" y="141.90" width="5.2" height="5" fill="#0000c8" stroke="#0000a0" stroke-width="0.25"/>
<rect x="747.00" y="144.10" width="5.2" height="5" fill="#0000c8" stroke="#0000a0" stroke-width="0.25"/>
<rect x="747.00" y="146.30" width="5.2" height="5" fill="#0000c8" stroke="#0000a0" stroke-width="0.25"/>
<rect x="747.00" y="148.50" width="5.2" height="5" fill="#0000c8" stroke="#0000a0" stroke-width="0.25"/>
<rect x="747.00" y="150.70" width="5.2" height="5" fill="#0000c8" stroke="#0000a0" stroke-width="0.25"/>
<rect x="747.00" y="152.90" width="5.2" height="5" fill="#0000c8" stroke="#0000a0" stroke-width="0.25"/>
<rect x="747.00" y="155.10" width="5.2" height="5" fill="#0000c8" stroke="#0000a0" stroke-width="0.25"/>
<rect x="747.00" y="157.30" width="5.2" height="5" fill="#0000c8" stroke="#0000a0" stroke-width="0.25"/>
<rect x="747.00" y="159.50" width="5.2" height="5" fill="#0000c8" stroke="#0000a0" stroke-width="0.25"/>
<rect x="747.00" y="167.80" width="5.2" height="5" fill="#0000c8" stroke="#0000a0" stroke-width="0.25"/>
<rect x="747.00" y="174.70" width="5.2" height="5" fill="#0000c8" stroke="#0000a0" stroke-width="0.25"/>
<circle cx="828" cy="103.90" r="3.2" fill="#00cc00" stroke="#009a00" stroke-width="0.4"/>
<circle cx="828" cy="107.70" r="3.2" fill="#00cc00" stroke="#009a00" stroke-width="0.4"/>
<rect x="825.40" y="127.50" width="5.2" height="5" fill="#0000c8" stroke="#0000a0" stroke-width="0.25"/>
<rect x="825.40" y="129.65" width="5.2" height="5" fill="#0000c8" stroke="#0000a0" stroke-width="0.25"/>
<rect x="825.40" y="131.80" width="5.2" height="5" fill="#0000c8" stroke="#0000a0" stroke-width="0.25"/>
<rect x="825.40" y="140.00" width="5.2" height="5" fill="#0000c8" stroke="#0000a0" stroke-width="0.25"/>
<circle cx="906.1" cy="93" r="3.15" fill="#00cc00" stroke="#009a00" stroke-width="0.3"/>
<rect x="903.50" y="112.70" width="5.2" height="5" fill="#0000c8" stroke="#0000a0" stroke-width="0.25"/>
<circle cx="984.3" cy="67.5" r="3.15" fill="#00cc00" stroke="#009a00" stroke-width="0.3"/>
<rect x="981.70" y="67.70" width="5.2" height="5" fill="#0000c8" stroke="#0000a0" stroke-width="0.25"/>
<defs><linearGradient id="barg" x1="0" y1="0" x2="1" y2="0"><stop offset="0" stop-color="#0a7a00"/><stop offset="0.12" stop-color="#0a8800"/><stop offset="0.3" stop-color="#1c9e00"/><stop offset="0.55" stop-color="#22bc00"/><stop offset="0.8" stop-color="#1a9800"/><stop offset="0.92" stop-color="#088200"/><stop offset="1" stop-color="#0a7800"/></linearGradient></defs>
<line x1="226.7" y1="564.70" x2="920.0" y2="564.70" stroke="#e0e0e0" stroke-width="0.8"/>
<line x1="226.7" y1="479.30" x2="920.0" y2="479.30" stroke="#e0e0e0" stroke-width="0.8"/>
<line x1="226.7" y1="436.60" x2="920.0" y2="436.60" stroke="#e0e0e0" stroke-width="0.8"/>
<line x1="226.7" y1="393.90" x2="920.0" y2="393.90" stroke="#e0e0e0" stroke-width="0.8"/>
<line x1="226.7" y1="351.20" x2="920.0" y2="351.20" stroke="#e0e0e0" stroke-width="0.8"/>
<line x1="226.7" y1="522.00" x2="920.0" y2="522.00" stroke="#a0a0a0" stroke-width="0.9"/>
<line x1="226.7" y1="311.5" x2="226.7" y2="564.7" stroke="#9a9a9a" stroke-width="0.9"/>
<line x1="226.7" y1="564.7" x2="920.0" y2="564.7" stroke="#999" stroke-width="0.9"/>
<path d="M224.5,316.5 L226.7,309.1 L228.89999999999998,316.5 Z" fill="#707070"/>
<line x1="224.7" y1="564.70" x2="226.7" y2="564.70" stroke="#888" stroke-width="0.6"/>
<line x1="224.7" y1="543.35" x2="226.7" y2="543.35" stroke="#888" stroke-width="0.6"/>
<line x1="224.7" y1="522.00" x2="226.7" y2="522.00" stroke="#888" stroke-width="0.6"/>
<line x1="224.7" y1="500.65" x2="226.7" y2="500.65" stroke="#888" stroke-width="0.6"/>
<line x1="224.7" y1="479.30" x2="226.7" y2="479.30" stroke="#888" stroke-width="0.6"/>
<line x1="224.7" y1="457.95" x2="226.7" y2="457.95" stroke="#888" stroke-width="0.6"/>
<line x1="224.7" y1="436.60" x2="226.7" y2="436.60" stroke="#888" stroke-width="0.6"/>
<line x1="224.7" y1="415.25" x2="226.7" y2="415.25" stroke="#888" stroke-width="0.6"/>
<line x1="224.7" y1="393.90" x2="226.7" y2="393.90" stroke="#888" stroke-width="0.6"/>
<line x1="224.7" y1="372.55" x2="226.7" y2="372.55" stroke="#888" stroke-width="0.6"/>
<line x1="224.7" y1="351.20" x2="226.7" y2="351.20" stroke="#888" stroke-width="0.6"/>
<line x1="224.7" y1="329.85" x2="226.7" y2="329.85" stroke="#888" stroke-width="0.6"/>
<text transform="translate(222,567.50) scale(0.87,1)" font-family="'Liberation Sans', sans-serif" font-size="6.6" fill="#333" text-anchor="end">-0.5</text>
<text transform="translate(222,524.80) scale(0.87,1)" font-family="'Liberation Sans', sans-serif" font-size="6.6" fill="#333" text-anchor="end">0</text>
<text transform="translate(222,482.10) scale(0.87,1)" font-family="'Liberation Sans', sans-serif" font-size="6.6" fill="#333" text-anchor="end">0.5</text>
<text transform="translate(222,439.40) scale(0.87,1)" font-family="'Liberation Sans', sans-serif" font-size="6.6" fill="#333" text-anchor="end">1</text>
<text transform="translate(222,396.70) scale(0.87,1)" font-family="'Liberation Sans', sans-serif" font-size="6.6" fill="#333" text-anchor="end">1.5</text>
<text transform="translate(222,354.00) scale(0.87,1)" font-family="'Liberation Sans', sans-serif" font-size="6.6" fill="#333" text-anchor="end">2</text>
<text transform="translate(209.6,453.8) rotate(-90)" font-family="'Liberation Sans', sans-serif" font-size="7.2" fill="#333" textLength="34.2" lengthAdjust="spacingAndGlyphs">VIP[6+1+0]</text>
<rect x="227.75" y="383.65" width="10.3" height="138.35" fill="url(#barg)" stroke="#0a7000" stroke-width="0.35"/>
<line x1="232.90" y1="327.29" x2="232.90" y2="383.65" stroke="#b4b4b4" stroke-width="1.05"/>
<line x1="232.90" y1="383.65" x2="232.90" y2="438.31" stroke="#0b5a0b" stroke-width="0.7"/>
<line x1="229.70" y1="327.29" x2="236.10" y2="327.29" stroke="#999" stroke-width="0.95"/>
<line x1="229.70" y1="438.31" x2="236.10" y2="438.31" stroke="#0b4a0b" stroke-width="0.9"/>
<line x1="232.90" y1="564.7" x2="232.90" y2="566.7" stroke="#888" stroke-width="0.6"/>
<text transform="translate(235.90,569.6) rotate(-90)" font-family="'Liberation Sans', sans-serif" font-size="6.85" fill="#2a2a2a" text-anchor="end">Propanal</text>
<rect x="241.08" y="414.40" width="10.3" height="107.60" fill="url(#barg)" stroke="#0a7000" stroke-width="0.35"/>
<line x1="246.23" y1="391.34" x2="246.23" y2="414.40" stroke="#b4b4b4" stroke-width="1.05"/>
<line x1="246.23" y1="414.40" x2="246.23" y2="436.60" stroke="#0b5a0b" stroke-width="0.7"/>
<line x1="243.03" y1="391.34" x2="249.43" y2="391.34" stroke="#999" stroke-width="0.95"/>
<line x1="243.03" y1="436.60" x2="249.43" y2="436.60" stroke="#0b4a0b" stroke-width="0.9"/>
<line x1="246.23" y1="564.7" x2="246.23" y2="566.7" stroke="#888" stroke-width="0.6"/>
<text transform="translate(249.23,569.6) rotate(-90)" font-family="'Liberation Sans', sans-serif" font-size="6.85" fill="#2a2a2a" text-anchor="end">2-methylbutan-1-ol</text>
<rect x="254.42" y="416.53" width="10.3" height="105.47" fill="url(#barg)" stroke="#0a7000" stroke-width="0.35"/>
<line x1="259.57" y1="404.15" x2="259.57" y2="416.53" stroke="#b4b4b4" stroke-width="1.05"/>
<line x1="259.57" y1="416.53" x2="259.57" y2="428.91" stroke="#0b5a0b" stroke-width="0.7"/>
<line x1="256.37" y1="404.15" x2="262.77" y2="404.15" stroke="#999" stroke-width="0.95"/>
<line x1="256.37" y1="428.91" x2="262.77" y2="428.91" stroke="#0b4a0b" stroke-width="0.9"/>
<line x1="259.57" y1="564.7" x2="259.57" y2="566.7" stroke="#888" stroke-width="0.6"/>
<text transform="translate(262.57,569.6) rotate(-90)" font-family="'Liberation Sans', sans-serif" font-size="6.85" fill="#2a2a2a" text-anchor="end">4</text>
<rect x="267.75" y="419.09" width="10.3" height="102.91" fill="url(#barg)" stroke="#0a7000" stroke-width="0.35"/>
<line x1="272.90" y1="375.11" x2="272.90" y2="419.09" stroke="#b4b4b4" stroke-width="1.05"/>
<line x1="272.90" y1="419.09" x2="272.90" y2="461.37" stroke="#0b5a0b" stroke-width="0.7"/>
<line x1="269.70" y1="375.11" x2="276.10" y2="375.11" stroke="#999" stroke-width="0.95"/>
<line x1="269.70" y1="461.37" x2="276.10" y2="461.37" stroke="#0b4a0b" stroke-width="0.9"/>
<line x1="272.90" y1="564.7" x2="272.90" y2="566.7" stroke="#888" stroke-width="0.6"/>
<text transform="translate(275.90,569.6) rotate(-90)" font-family="'Liberation Sans', sans-serif" font-size="6.85" fill="#2a2a2a" text-anchor="end">2,3-pentanedione</text>
<rect x="281.08" y="419.52" width="10.3" height="102.48" fill="url(#barg)" stroke="#0a7000" stroke-width="0.35"/>
<line x1="286.23" y1="390.48" x2="286.23" y2="419.52" stroke="#b4b4b4" stroke-width="1.05"/>
<line x1="286.23" y1="419.52" x2="286.23" y2="447.27" stroke="#0b5a0b" stroke-width="0.7"/>
<line x1="283.03" y1="390.48" x2="289.43" y2="390.48" stroke="#999" stroke-width="0.95"/>
<line x1="283.03" y1="447.27" x2="289.43" y2="447.27" stroke="#0b4a0b" stroke-width="0.9"/>
<line x1="286.23" y1="564.7" x2="286.23" y2="566.7" stroke="#888" stroke-width="0.6"/>
<text transform="translate(289.23,569.6) rotate(-90)" font-family="'Liberation Sans', sans-serif" font-size="6.85" fill="#2a2a2a" text-anchor="end">Butanal</text>
<rect x="294.42" y="419.95" width="10.3" height="102.05" fill="url(#barg)" stroke="#0a7000" stroke-width="0.35"/>
<line x1="299.56" y1="393.90" x2="299.56" y2="419.95" stroke="#b4b4b4" stroke-width="1.05"/>
<line x1="299.56" y1="419.95" x2="299.56" y2="445.57" stroke="#0b5a0b" stroke-width="0.7"/>
<line x1="296.37" y1="393.90" x2="302.76" y2="393.90" stroke="#999" stroke-width="0.95"/>
<line x1="296.37" y1="445.57" x2="302.76" y2="445.57" stroke="#0b4a0b" stroke-width="0.9"/>
<line x1="299.56" y1="564.7" x2="299.56" y2="566.7" stroke="#888" stroke-width="0.6"/>
<text transform="translate(302.56,569.6) rotate(-90)" font-family="'Liberation Sans', sans-serif" font-size="6.85" fill="#2a2a2a" text-anchor="end">Ethyl Acetate</text>
<rect x="307.75" y="421.23" width="10.3" height="100.77" fill="url(#barg)" stroke="#0a7000" stroke-width="0.35"/>
<line x1="312.90" y1="361.02" x2="312.90" y2="421.23" stroke="#b4b4b4" stroke-width="1.05"/>
<line x1="312.90" y1="421.23" x2="312.90" y2="481.01" stroke="#0b5a0b" stroke-width="0.7"/>
<line x1="309.70" y1="361.02" x2="316.10" y2="361.02" stroke="#999" stroke-width="0.95"/>
<line x1="309.70" y1="481.01" x2="316.10" y2="481.01" stroke="#0b4a0b" stroke-width="0.9"/>
<line x1="312.90" y1="564.7" x2="312.90" y2="566.7" stroke="#888" stroke-width="0.6"/>
<text transform="translate(315.90,569.6) rotate(-90)" font-family="'Liberation Sans', sans-serif" font-size="6.85" fill="#2a2a2a" text-anchor="end">2-Methoxy-3-methylpyrazine</text>
<rect x="321.08" y="421.23" width="10.3" height="100.77" fill="url(#barg)" stroke="#0a7000" stroke-width="0.35"/>
<line x1="326.23" y1="403.72" x2="326.23" y2="421.23" stroke="#b4b4b4" stroke-width="1.05"/>
<line x1="326.23" y1="421.23" x2="326.23" y2="438.31" stroke="#0b5a0b" stroke-width="0.7"/>
<line x1="323.03" y1="403.72" x2="329.43" y2="403.72" stroke="#999" stroke-width="0.95"/>
<line x1="323.03" y1="438.31" x2="329.43" y2="438.31" stroke="#0b4a0b" stroke-width="0.9"/>
<line x1="326.23" y1="564.7" x2="326.23" y2="566.7" stroke="#888" stroke-width="0.6"/>
<text transform="translate(329.23,569.6) rotate(-90)" font-family="'Liberation Sans', sans-serif" font-size="6.85" fill="#2a2a2a" text-anchor="end">2- butanone</text>
<rect x="334.41" y="421.23" width="10.3" height="100.77" fill="url(#barg)" stroke="#0a7000" stroke-width="0.35"/>
<line x1="339.56" y1="396.46" x2="339.56" y2="421.23" stroke="#b4b4b4" stroke-width="1.05"/>
<line x1="339.56" y1="421.23" x2="339.56" y2="445.57" stroke="#0b5a0b" stroke-width="0.7"/>
<line x1="336.36" y1="396.46" x2="342.76" y2="396.46" stroke="#999" stroke-width="0.95"/>
<line x1="336.36" y1="445.57" x2="342.76" y2="445.57" stroke="#0b4a0b" stroke-width="0.9"/>
<line x1="339.56" y1="564.7" x2="339.56" y2="566.7" stroke="#888" stroke-width="0.6"/>
<text transform="translate(342.56,569.6) rotate(-90)" font-family="'Liberation Sans', sans-serif" font-size="6.85" fill="#2a2a2a" text-anchor="end">pentanoic acid</text>
<rect x="347.75" y="422.08" width="10.3" height="99.92" fill="url(#barg)" stroke="#0a7000" stroke-width="0.35"/>
<line x1="352.90" y1="401.59" x2="352.90" y2="422.08" stroke="#b4b4b4" stroke-width="1.05"/>
<line x1="352.90" y1="422.08" x2="352.90" y2="442.58" stroke="#0b5a0b" stroke-width="0.7"/>
<line x1="349.70" y1="401.59" x2="356.10" y2="401.59" stroke="#999" stroke-width="0.95"/>
<line x1="349.70" y1="442.58" x2="356.10" y2="442.58" stroke="#0b4a0b" stroke-width="0.9"/>
<line x1="352.90" y1="564.7" x2="352.90" y2="566.7" stroke="#888" stroke-width="0.6"/>
<text transform="translate(355.90,569.6) rotate(-90)" font-family="'Liberation Sans', sans-serif" font-size="6.85" fill="#2a2a2a" text-anchor="end">6</text>
<rect x="361.08" y="426.35" width="10.3" height="95.65" fill="url(#barg)" stroke="#0a7000" stroke-width="0.35"/>
<line x1="366.23" y1="402.44" x2="366.23" y2="426.35" stroke="#b4b4b4" stroke-width="1.05"/>
<line x1="366.23" y1="426.35" x2="366.23" y2="449.41" stroke="#0b5a0b" stroke-width="0.7"/>
<line x1="363.03" y1="402.44" x2="369.43" y2="402.44" stroke="#999" stroke-width="0.95"/>
<line x1="363.03" y1="449.41" x2="369.43" y2="449.41" stroke="#0b4a0b" stroke-width="0.9"/>
<line x1="366.23" y1="564.7" x2="366.23" y2="566.7" stroke="#888" stroke-width="0.6"/>
<text transform="translate(369.23,569.6) rotate(-90)" font-family="'Liberation Sans', sans-serif" font-size="6.85" fill="#2a2a2a" text-anchor="end">cyclopentanone</text>
<rect x="374.41" y="427.21" width="10.3" height="94.79" fill="url(#barg)" stroke="#0a7000" stroke-width="0.35"/>
<line x1="379.56" y1="412.26" x2="379.56" y2="427.21" stroke="#b4b4b4" stroke-width="1.05"/>
<line x1="379.56" y1="427.21" x2="379.56" y2="441.30" stroke="#0b5a0b" stroke-width="0.7"/>
<line x1="376.36" y1="412.26" x2="382.76" y2="412.26" stroke="#999" stroke-width="0.95"/>
<line x1="376.36" y1="441.30" x2="382.76" y2="441.30" stroke="#0b4a0b" stroke-width="0.9"/>
<line x1="379.56" y1="564.7" x2="379.56" y2="566.7" stroke="#888" stroke-width="0.6"/>
<text transform="translate(382.56,569.6) rotate(-90)" font-family="'Liberation Sans', sans-serif" font-size="6.85" fill="#2a2a2a" text-anchor="end">2-Pentanone</text>
<rect x="387.75" y="427.21" width="10.3" height="94.79" fill="url(#barg)" stroke="#0a7000" stroke-width="0.35"/>
<line x1="392.90" y1="416.53" x2="392.90" y2="427.21" stroke="#b4b4b4" stroke-width="1.05"/>
<line x1="392.90" y1="427.21" x2="392.90" y2="437.45" stroke="#0b5a0b" stroke-width="0.7"/>
<line x1="389.70" y1="416.53" x2="396.10" y2="416.53" stroke="#999" stroke-width="0.95"/>
<line x1="389.70" y1="437.45" x2="396.10" y2="437.45" stroke="#0b4a0b" stroke-width="0.9"/>
<line x1="392.90" y1="564.7" x2="392.90" y2="566.7" stroke="#888" stroke-width="0.6"/>
<text transform="translate(395.90,569.6) rotate(-90)" font-family="'Liberation Sans', sans-serif" font-size="6.85" fill="#2a2a2a" text-anchor="end">Acetone</text>
<rect x="401.08" y="428.06" width="10.3" height="93.94" fill="url(#barg)" stroke="#0a7000" stroke-width="0.35"/>
<line x1="406.23" y1="412.69" x2="406.23" y2="428.06" stroke="#b4b4b4" stroke-width="1.05"/>
<line x1="406.23" y1="428.06" x2="406.23" y2="442.58" stroke="#0b5a0b" stroke-width="0.7"/>
<line x1="403.03" y1="412.69" x2="409.43" y2="412.69" stroke="#999" stroke-width="0.95"/>
<line x1="403.03" y1="442.58" x2="409.43" y2="442.58" stroke="#0b4a0b" stroke-width="0.9"/>
<line x1="406.23" y1="564.7" x2="406.23" y2="566.7" stroke="#888" stroke-width="0.6"/>
<text transform="translate(409.23,569.6) rotate(-90)" font-family="'Liberation Sans', sans-serif" font-size="6.85" fill="#2a2a2a" text-anchor="end">Pyridine, 2,4,6-trimethyl-</text>
<rect x="414.41" y="429.34" width="10.3" height="92.66" fill="url(#barg)" stroke="#0a7000" stroke-width="0.35"/>
<line x1="419.56" y1="411.83" x2="419.56" y2="429.34" stroke="#b4b4b4" stroke-width="1.05"/>
<line x1="419.56" y1="429.34" x2="419.56" y2="446.85" stroke="#0b5a0b" stroke-width="0.7"/>
<line x1="416.36" y1="411.83" x2="422.76" y2="411.83" stroke="#999" stroke-width="0.95"/>
<line x1="416.36" y1="446.85" x2="422.76" y2="446.85" stroke="#0b4a0b" stroke-width="0.9"/>
<line x1="419.56" y1="564.7" x2="419.56" y2="566.7" stroke="#888" stroke-width="0.6"/>
<text transform="translate(422.56,569.6) rotate(-90)" font-family="'Liberation Sans', sans-serif" font-size="6.85" fill="#2a2a2a" text-anchor="end">2-Propanol</text>
<rect x="427.75" y="429.34" width="10.3" height="92.66" fill="url(#barg)" stroke="#0a7000" stroke-width="0.35"/>
<line x1="432.89" y1="412.69" x2="432.89" y2="429.34" stroke="#b4b4b4" stroke-width="1.05"/>
<line x1="432.89" y1="429.34" x2="432.89" y2="445.57" stroke="#0b5a0b" stroke-width="0.7"/>
<line x1="429.69" y1="412.69" x2="436.09" y2="412.69" stroke="#999" stroke-width="0.95"/>
<line x1="429.69" y1="445.57" x2="436.09" y2="445.57" stroke="#0b4a0b" stroke-width="0.9"/>
<line x1="432.89" y1="564.7" x2="432.89" y2="566.7" stroke="#888" stroke-width="0.6"/>
<text transform="translate(435.89,569.6) rotate(-90)" font-family="'Liberation Sans', sans-serif" font-size="6.85" fill="#2a2a2a" text-anchor="end">3</text>
<rect x="441.08" y="429.34" width="10.3" height="92.66" fill="url(#barg)" stroke="#0a7000" stroke-width="0.35"/>
<line x1="446.23" y1="380.66" x2="446.23" y2="429.34" stroke="#b4b4b4" stroke-width="1.05"/>
<line x1="446.23" y1="429.34" x2="446.23" y2="477.59" stroke="#0b5a0b" stroke-width="0.7"/>
<line x1="443.03" y1="380.66" x2="449.43" y2="380.66" stroke="#999" stroke-width="0.95"/>
<line x1="443.03" y1="477.59" x2="449.43" y2="477.59" stroke="#0b4a0b" stroke-width="0.9"/>
<line x1="446.23" y1="564.7" x2="446.23" y2="566.7" stroke="#888" stroke-width="0.6"/>
<text transform="translate(449.23,569.6) rotate(-90)" font-family="'Liberation Sans', sans-serif" font-size="6.85" fill="#2a2a2a" text-anchor="end">Benzaldehyde</text>
<rect x="454.41" y="429.34" width="10.3" height="92.66" fill="url(#barg)" stroke="#0a7000" stroke-width="0.35"/>
<line x1="459.56" y1="370.84" x2="459.56" y2="429.34" stroke="#b4b4b4" stroke-width="1.05"/>
<line x1="459.56" y1="429.34" x2="459.56" y2="487.84" stroke="#0b5a0b" stroke-width="0.7"/>
<line x1="456.36" y1="370.84" x2="462.76" y2="370.84" stroke="#999" stroke-width="0.95"/>
<line x1="456.36" y1="487.84" x2="462.76" y2="487.84" stroke="#0b4a0b" stroke-width="0.9"/>
<line x1="459.56" y1="564.7" x2="459.56" y2="566.7" stroke="#888" stroke-width="0.6"/>
<text transform="translate(462.56,569.6) rotate(-90)" font-family="'Liberation Sans', sans-serif" font-size="6.85" fill="#2a2a2a" text-anchor="end">( E)-2-octenal</text>
<rect x="467.74" y="430.62" width="10.3" height="91.38" fill="url(#barg)" stroke="#0a7000" stroke-width="0.35"/>
<line x1="472.89" y1="405.86" x2="472.89" y2="430.62" stroke="#b4b4b4" stroke-width="1.05"/>
<line x1="472.89" y1="430.62" x2="472.89" y2="454.53" stroke="#0b5a0b" stroke-width="0.7"/>
<line x1="469.69" y1="405.86" x2="476.09" y2="405.86" stroke="#999" stroke-width="0.95"/>
<line x1="469.69" y1="454.53" x2="476.09" y2="454.53" stroke="#0b4a0b" stroke-width="0.9"/>
<line x1="472.89" y1="564.7" x2="472.89" y2="566.7" stroke="#888" stroke-width="0.6"/>
<text transform="translate(475.89,569.6) rotate(-90)" font-family="'Liberation Sans', sans-serif" font-size="6.85" fill="#2a2a2a" text-anchor="end">furanol</text>
<rect x="481.08" y="432.76" width="10.3" height="89.24" fill="url(#barg)" stroke="#0a7000" stroke-width="0.35"/>
<line x1="486.23" y1="396.03" x2="486.23" y2="432.76" stroke="#b4b4b4" stroke-width="1.05"/>
<line x1="486.23" y1="432.76" x2="486.23" y2="469.05" stroke="#0b5a0b" stroke-width="0.7"/>
<line x1="483.03" y1="396.03" x2="489.43" y2="396.03" stroke="#999" stroke-width="0.95"/>
<line x1="483.03" y1="469.05" x2="489.43" y2="469.05" stroke="#0b4a0b" stroke-width="0.9"/>
<line x1="486.23" y1="564.7" x2="486.23" y2="566.7" stroke="#888" stroke-width="0.6"/>
<text transform="translate(489.23,569.6) rotate(-90)" font-family="'Liberation Sans', sans-serif" font-size="6.85" fill="#2a2a2a" text-anchor="end">Acetic acid</text>
<rect x="494.41" y="434.04" width="10.3" height="87.96" fill="url(#barg)" stroke="#0a7000" stroke-width="0.35"/>
<line x1="499.56" y1="422.51" x2="499.56" y2="434.04" stroke="#b4b4b4" stroke-width="1.05"/>
<line x1="499.56" y1="434.04" x2="499.56" y2="444.71" stroke="#0b5a0b" stroke-width="0.7"/>
<line x1="496.36" y1="422.51" x2="502.76" y2="422.51" stroke="#999" stroke-width="0.95"/>
<line x1="496.36" y1="444.71" x2="502.76" y2="444.71" stroke="#0b4a0b" stroke-width="0.9"/>
<line x1="499.56" y1="564.7" x2="499.56" y2="566.7" stroke="#888" stroke-width="0.6"/>
<text transform="translate(502.56,569.6) rotate(-90)" font-family="'Liberation Sans', sans-serif" font-size="6.85" fill="#2a2a2a" text-anchor="end">2</text>
<rect x="507.74" y="435.32" width="10.3" height="86.68" fill="url(#barg)" stroke="#0a7000" stroke-width="0.35"/>
<line x1="512.89" y1="416.96" x2="512.89" y2="435.32" stroke="#b4b4b4" stroke-width="1.05"/>
<line x1="512.89" y1="435.32" x2="512.89" y2="453.25" stroke="#0b5a0b" stroke-width="0.7"/>
<line x1="509.69" y1="416.96" x2="516.09" y2="416.96" stroke="#999" stroke-width="0.95"/>
<line x1="509.69" y1="453.25" x2="516.09" y2="453.25" stroke="#0b4a0b" stroke-width="0.9"/>
<line x1="512.89" y1="564.7" x2="512.89" y2="566.7" stroke="#888" stroke-width="0.6"/>
<text transform="translate(515.89,569.6) rotate(-90)" font-family="'Liberation Sans', sans-serif" font-size="6.85" fill="#2a2a2a" text-anchor="end">5</text>
<rect x="521.08" y="440.44" width="10.3" height="81.56" fill="url(#barg)" stroke="#0a7000" stroke-width="0.35"/>
<line x1="526.23" y1="410.13" x2="526.23" y2="440.44" stroke="#b4b4b4" stroke-width="1.05"/>
<line x1="526.23" y1="440.44" x2="526.23" y2="469.91" stroke="#0b5a0b" stroke-width="0.7"/>
<line x1="523.03" y1="410.13" x2="529.43" y2="410.13" stroke="#999" stroke-width="0.95"/>
<line x1="523.03" y1="469.91" x2="529.43" y2="469.91" stroke="#0b4a0b" stroke-width="0.9"/>
<line x1="526.23" y1="564.7" x2="526.23" y2="566.7" stroke="#888" stroke-width="0.6"/>
<text transform="translate(529.23,569.6) rotate(-90)" font-family="'Liberation Sans', sans-serif" font-size="6.85" fill="#2a2a2a" text-anchor="end">diethoxy-1,1-ethane</text>
<rect x="534.41" y="444.71" width="10.3" height="77.29" fill="url(#barg)" stroke="#0a7000" stroke-width="0.35"/>
<line x1="539.56" y1="433.61" x2="539.56" y2="444.71" stroke="#b4b4b4" stroke-width="1.05"/>
<line x1="539.56" y1="444.71" x2="539.56" y2="454.53" stroke="#0b5a0b" stroke-width="0.7"/>
<line x1="536.36" y1="433.61" x2="542.76" y2="433.61" stroke="#999" stroke-width="0.95"/>
<line x1="536.36" y1="454.53" x2="542.76" y2="454.53" stroke="#0b4a0b" stroke-width="0.9"/>
<line x1="539.56" y1="564.7" x2="539.56" y2="566.7" stroke="#888" stroke-width="0.6"/>
<text transform="translate(542.56,569.6) rotate(-90)" font-family="'Liberation Sans', sans-serif" font-size="6.85" fill="#2a2a2a" text-anchor="end">Isopentyl formate</text>
<rect x="547.74" y="444.71" width="10.3" height="77.29" fill="url(#barg)" stroke="#0a7000" stroke-width="0.35"/>
<line x1="552.89" y1="424.22" x2="552.89" y2="444.71" stroke="#b4b4b4" stroke-width="1.05"/>
<line x1="552.89" y1="444.71" x2="552.89" y2="464.36" stroke="#0b5a0b" stroke-width="0.7"/>
<line x1="549.69" y1="424.22" x2="556.09" y2="424.22" stroke="#999" stroke-width="0.95"/>
<line x1="549.69" y1="464.36" x2="556.09" y2="464.36" stroke="#0b4a0b" stroke-width="0.9"/>
<line x1="552.89" y1="564.7" x2="552.89" y2="566.7" stroke="#888" stroke-width="0.6"/>
<text transform="translate(555.89,569.6) rotate(-90)" font-family="'Liberation Sans', sans-serif" font-size="6.85" fill="#2a2a2a" text-anchor="end">2-heptanone</text>
<rect x="561.08" y="444.71" width="10.3" height="77.29" fill="url(#barg)" stroke="#0a7000" stroke-width="0.35"/>
<line x1="566.23" y1="438.31" x2="566.23" y2="444.71" stroke="#b4b4b4" stroke-width="1.05"/>
<line x1="566.23" y1="444.71" x2="566.23" y2="450.26" stroke="#0b5a0b" stroke-width="0.7"/>
<line x1="563.02" y1="438.31" x2="569.43" y2="438.31" stroke="#999" stroke-width="0.95"/>
<line x1="563.02" y1="450.26" x2="569.43" y2="450.26" stroke="#0b4a0b" stroke-width="0.9"/>
<line x1="566.23" y1="564.7" x2="566.23" y2="566.7" stroke="#888" stroke-width="0.6"/>
<text transform="translate(569.23,569.6) rotate(-90)" font-family="'Liberation Sans', sans-serif" font-size="6.85" fill="#2a2a2a" text-anchor="end">ethyl propanoate</text>
<rect x="574.41" y="445.14" width="10.3" height="76.86" fill="url(#barg)" stroke="#0a7000" stroke-width="0.35"/>
<line x1="579.56" y1="431.05" x2="579.56" y2="445.14" stroke="#b4b4b4" stroke-width="1.05"/>
<line x1="579.56" y1="445.14" x2="579.56" y2="458.38" stroke="#0b5a0b" stroke-width="0.7"/>
<line x1="576.36" y1="431.05" x2="582.76" y2="431.05" stroke="#999" stroke-width="0.95"/>
<line x1="576.36" y1="458.38" x2="582.76" y2="458.38" stroke="#0b4a0b" stroke-width="0.9"/>
<line x1="579.56" y1="564.7" x2="579.56" y2="566.7" stroke="#888" stroke-width="0.6"/>
<text transform="translate(582.56,569.6) rotate(-90)" font-family="'Liberation Sans', sans-serif" font-size="6.85" fill="#2a2a2a" text-anchor="end">Heptanal</text>
<rect x="587.74" y="445.99" width="10.3" height="76.01" fill="url(#barg)" stroke="#0a7000" stroke-width="0.35"/>
<line x1="592.89" y1="433.61" x2="592.89" y2="445.99" stroke="#b4b4b4" stroke-width="1.05"/>
<line x1="592.89" y1="445.99" x2="592.89" y2="458.38" stroke="#0b5a0b" stroke-width="0.7"/>
<line x1="589.69" y1="433.61" x2="596.09" y2="433.61" stroke="#999" stroke-width="0.95"/>
<line x1="589.69" y1="458.38" x2="596.09" y2="458.38" stroke="#0b4a0b" stroke-width="0.9"/>
<line x1="592.89" y1="564.7" x2="592.89" y2="566.7" stroke="#888" stroke-width="0.6"/>
<text transform="translate(595.89,569.6) rotate(-90)" font-family="'Liberation Sans', sans-serif" font-size="6.85" fill="#2a2a2a" text-anchor="end">3-Methyl-2-butenal</text>
<rect x="601.07" y="446.85" width="10.3" height="75.15" fill="url(#barg)" stroke="#0a7000" stroke-width="0.35"/>
<line x1="606.22" y1="428.91" x2="606.22" y2="446.85" stroke="#b4b4b4" stroke-width="1.05"/>
<line x1="606.22" y1="446.85" x2="606.22" y2="464.36" stroke="#0b5a0b" stroke-width="0.7"/>
<line x1="603.02" y1="428.91" x2="609.42" y2="428.91" stroke="#999" stroke-width="0.95"/>
<line x1="603.02" y1="464.36" x2="609.42" y2="464.36" stroke="#0b4a0b" stroke-width="0.9"/>
<line x1="606.22" y1="564.7" x2="606.22" y2="566.7" stroke="#888" stroke-width="0.6"/>
<text transform="translate(609.22,569.6) rotate(-90)" font-family="'Liberation Sans', sans-serif" font-size="6.85" fill="#2a2a2a" text-anchor="end">Pyrazine</text>
<rect x="614.41" y="448.13" width="10.3" height="73.87" fill="url(#barg)" stroke="#0a7000" stroke-width="0.35"/>
<line x1="619.56" y1="426.35" x2="619.56" y2="448.13" stroke="#b4b4b4" stroke-width="1.05"/>
<line x1="619.56" y1="448.13" x2="619.56" y2="469.05" stroke="#0b5a0b" stroke-width="0.7"/>
<line x1="616.36" y1="426.35" x2="622.76" y2="426.35" stroke="#999" stroke-width="0.95"/>
<line x1="616.36" y1="469.05" x2="622.76" y2="469.05" stroke="#0b4a0b" stroke-width="0.9"/>
<line x1="619.56" y1="564.7" x2="619.56" y2="566.7" stroke="#888" stroke-width="0.6"/>
<text transform="translate(622.56,569.6) rotate(-90)" font-family="'Liberation Sans', sans-serif" font-size="6.85" fill="#2a2a2a" text-anchor="end">Limonene-M</text>
<rect x="627.74" y="448.13" width="10.3" height="73.87" fill="url(#barg)" stroke="#0a7000" stroke-width="0.35"/>
<line x1="632.89" y1="429.34" x2="632.89" y2="448.13" stroke="#b4b4b4" stroke-width="1.05"/>
<line x1="632.89" y1="448.13" x2="632.89" y2="466.06" stroke="#0b5a0b" stroke-width="0.7"/>
<line x1="629.69" y1="429.34" x2="636.09" y2="429.34" stroke="#999" stroke-width="0.95"/>
<line x1="629.69" y1="466.06" x2="636.09" y2="466.06" stroke="#0b4a0b" stroke-width="0.9"/>
<line x1="632.89" y1="564.7" x2="632.89" y2="566.7" stroke="#888" stroke-width="0.6"/>
<text transform="translate(635.89,569.6) rotate(-90)" font-family="'Liberation Sans', sans-serif" font-size="6.85" fill="#2a2a2a" text-anchor="end">alpha-Pinene-M</text>
<rect x="641.07" y="448.56" width="10.3" height="73.44" fill="url(#barg)" stroke="#0a7000" stroke-width="0.35"/>
<line x1="646.22" y1="422.51" x2="646.22" y2="448.56" stroke="#b4b4b4" stroke-width="1.05"/>
<line x1="646.22" y1="448.56" x2="646.22" y2="473.32" stroke="#0b5a0b" stroke-width="0.7"/>
<line x1="643.02" y1="422.51" x2="649.42" y2="422.51" stroke="#999" stroke-width="0.95"/>
<line x1="643.02" y1="473.32" x2="649.42" y2="473.32" stroke="#0b4a0b" stroke-width="0.9"/>
<line x1="646.22" y1="564.7" x2="646.22" y2="566.7" stroke="#888" stroke-width="0.6"/>
<text transform="translate(649.22,569.6) rotate(-90)" font-family="'Liberation Sans', sans-serif" font-size="6.85" fill="#2a2a2a" text-anchor="end">beta-Pinene-M</text>
<rect x="654.41" y="448.56" width="10.3" height="73.44" fill="url(#barg)" stroke="#0a7000" stroke-width="0.35"/>
<line x1="659.56" y1="430.19" x2="659.56" y2="448.56" stroke="#b4b4b4" stroke-width="1.05"/>
<line x1="659.56" y1="448.56" x2="659.56" y2="466.06" stroke="#0b5a0b" stroke-width="0.7"/>
<line x1="656.36" y1="430.19" x2="662.76" y2="430.19" stroke="#999" stroke-width="0.95"/>
<line x1="656.36" y1="466.06" x2="662.76" y2="466.06" stroke="#0b4a0b" stroke-width="0.9"/>
<line x1="659.56" y1="564.7" x2="659.56" y2="566.7" stroke="#888" stroke-width="0.6"/>
<text transform="translate(662.56,569.6) rotate(-90)" font-family="'Liberation Sans', sans-serif" font-size="6.85" fill="#2a2a2a" text-anchor="end">Limonene-D</text>
<rect x="667.74" y="448.98" width="10.3" height="73.02" fill="url(#barg)" stroke="#0a7000" stroke-width="0.35"/>
<line x1="672.89" y1="421.23" x2="672.89" y2="448.98" stroke="#b4b4b4" stroke-width="1.05"/>
<line x1="672.89" y1="448.98" x2="672.89" y2="475.88" stroke="#0b5a0b" stroke-width="0.7"/>
<line x1="669.69" y1="421.23" x2="676.09" y2="421.23" stroke="#999" stroke-width="0.95"/>
<line x1="669.69" y1="475.88" x2="676.09" y2="475.88" stroke="#0b4a0b" stroke-width="0.9"/>
<line x1="672.89" y1="564.7" x2="672.89" y2="566.7" stroke="#888" stroke-width="0.6"/>
<text transform="translate(675.89,569.6) rotate(-90)" font-family="'Liberation Sans', sans-serif" font-size="6.85" fill="#2a2a2a" text-anchor="end">beta-Pinene-D</text>
<rect x="681.07" y="449.41" width="10.3" height="72.59" fill="url(#barg)" stroke="#0a7000" stroke-width="0.35"/>
<line x1="686.22" y1="427.63" x2="686.22" y2="449.41" stroke="#b4b4b4" stroke-width="1.05"/>
<line x1="686.22" y1="449.41" x2="686.22" y2="469.91" stroke="#0b5a0b" stroke-width="0.7"/>
<line x1="683.02" y1="427.63" x2="689.42" y2="427.63" stroke="#999" stroke-width="0.95"/>
<line x1="683.02" y1="469.91" x2="689.42" y2="469.91" stroke="#0b4a0b" stroke-width="0.9"/>
<line x1="686.22" y1="564.7" x2="686.22" y2="566.7" stroke="#888" stroke-width="0.6"/>
<text transform="translate(689.22,569.6) rotate(-90)" font-family="'Liberation Sans', sans-serif" font-size="6.85" fill="#2a2a2a" text-anchor="end">7</text>
<rect x="694.41" y="449.41" width="10.3" height="72.59" fill="url(#barg)" stroke="#0a7000" stroke-width="0.35"/>
<line x1="699.56" y1="432.33" x2="699.56" y2="449.41" stroke="#b4b4b4" stroke-width="1.05"/>
<line x1="699.56" y1="449.41" x2="699.56" y2="465.64" stroke="#0b5a0b" stroke-width="0.7"/>
<line x1="696.36" y1="432.33" x2="702.76" y2="432.33" stroke="#999" stroke-width="0.95"/>
<line x1="696.36" y1="465.64" x2="702.76" y2="465.64" stroke="#0b4a0b" stroke-width="0.9"/>
<line x1="699.56" y1="564.7" x2="699.56" y2="566.7" stroke="#888" stroke-width="0.6"/>
<text transform="translate(702.56,569.6) rotate(-90)" font-family="'Liberation Sans', sans-serif" font-size="6.85" fill="#2a2a2a" text-anchor="end">Ethyl butyrate</text>
<rect x="707.74" y="449.41" width="10.3" height="72.59" fill="url(#barg)" stroke="#0a7000" stroke-width="0.35"/>
<line x1="712.89" y1="430.62" x2="712.89" y2="449.41" stroke="#b4b4b4" stroke-width="1.05"/>
<line x1="712.89" y1="449.41" x2="712.89" y2="467.34" stroke="#0b5a0b" stroke-width="0.7"/>
<line x1="709.69" y1="430.62" x2="716.09" y2="430.62" stroke="#999" stroke-width="0.95"/>
<line x1="709.69" y1="467.34" x2="716.09" y2="467.34" stroke="#0b4a0b" stroke-width="0.9"/>
<line x1="712.89" y1="564.7" x2="712.89" y2="566.7" stroke="#888" stroke-width="0.6"/>
<text transform="translate(715.89,569.6) rotate(-90)" font-family="'Liberation Sans', sans-serif" font-size="6.85" fill="#2a2a2a" text-anchor="end">alpha-Pinene-D</text>
<rect x="721.07" y="449.41" width="10.3" height="72.59" fill="url(#barg)" stroke="#0a7000" stroke-width="0.35"/>
<line x1="726.22" y1="404.57" x2="726.22" y2="449.41" stroke="#b4b4b4" stroke-width="1.05"/>
<line x1="726.22" y1="449.41" x2="726.22" y2="494.25" stroke="#0b5a0b" stroke-width="0.7"/>
<line x1="723.02" y1="404.57" x2="729.42" y2="404.57" stroke="#999" stroke-width="0.95"/>
<line x1="723.02" y1="494.25" x2="729.42" y2="494.25" stroke="#0b4a0b" stroke-width="0.9"/>
<line x1="726.22" y1="564.7" x2="726.22" y2="566.7" stroke="#888" stroke-width="0.6"/>
<text transform="translate(729.22,569.6) rotate(-90)" font-family="'Liberation Sans', sans-serif" font-size="6.85" fill="#2a2a2a" text-anchor="end">delta-3-carene</text>
<rect x="734.40" y="449.41" width="10.3" height="72.59" fill="url(#barg)" stroke="#0a7000" stroke-width="0.35"/>
<line x1="739.55" y1="434.89" x2="739.55" y2="449.41" stroke="#b4b4b4" stroke-width="1.05"/>
<line x1="739.55" y1="449.41" x2="739.55" y2="463.07" stroke="#0b5a0b" stroke-width="0.7"/>
<line x1="736.35" y1="434.89" x2="742.75" y2="434.89" stroke="#999" stroke-width="0.95"/>
<line x1="736.35" y1="463.07" x2="742.75" y2="463.07" stroke="#0b4a0b" stroke-width="0.9"/>
<line x1="739.55" y1="564.7" x2="739.55" y2="566.7" stroke="#888" stroke-width="0.6"/>
<text transform="translate(742.55,569.6) rotate(-90)" font-family="'Liberation Sans', sans-serif" font-size="6.85" fill="#2a2a2a" text-anchor="end">3-pentanol</text>
<rect x="747.74" y="449.84" width="10.3" height="72.16" fill="url(#barg)" stroke="#0a7000" stroke-width="0.35"/>
<line x1="752.89" y1="387.50" x2="752.89" y2="449.84" stroke="#b4b4b4" stroke-width="1.05"/>
<line x1="752.89" y1="449.84" x2="752.89" y2="511.32" stroke="#0b5a0b" stroke-width="0.7"/>
<line x1="749.69" y1="387.50" x2="756.09" y2="387.50" stroke="#999" stroke-width="0.95"/>
<line x1="749.69" y1="511.32" x2="756.09" y2="511.32" stroke="#0b4a0b" stroke-width="0.9"/>
<line x1="752.89" y1="564.7" x2="752.89" y2="566.7" stroke="#888" stroke-width="0.6"/>
<text transform="translate(755.89,569.6) rotate(-90)" font-family="'Liberation Sans', sans-serif" font-size="6.85" fill="#2a2a2a" text-anchor="end">Diallyl disulfide</text>
<rect x="761.07" y="449.84" width="10.3" height="72.16" fill="url(#barg)" stroke="#0a7000" stroke-width="0.35"/>
<line x1="766.22" y1="426.35" x2="766.22" y2="449.84" stroke="#b4b4b4" stroke-width="1.05"/>
<line x1="766.22" y1="449.84" x2="766.22" y2="473.32" stroke="#0b5a0b" stroke-width="0.7"/>
<line x1="763.02" y1="426.35" x2="769.42" y2="426.35" stroke="#999" stroke-width="0.95"/>
<line x1="763.02" y1="473.32" x2="769.42" y2="473.32" stroke="#0b4a0b" stroke-width="0.9"/>
<line x1="766.22" y1="564.7" x2="766.22" y2="566.7" stroke="#888" stroke-width="0.6"/>
<text transform="translate(769.22,569.6) rotate(-90)" font-family="'Liberation Sans', sans-serif" font-size="6.85" fill="#2a2a2a" text-anchor="end">1,8-Cineole-D</text>
<rect x="774.40" y="450.26" width="10.3" height="71.74" fill="url(#barg)" stroke="#0a7000" stroke-width="0.35"/>
<line x1="779.55" y1="421.23" x2="779.55" y2="450.26" stroke="#b4b4b4" stroke-width="1.05"/>
<line x1="779.55" y1="450.26" x2="779.55" y2="478.45" stroke="#0b5a0b" stroke-width="0.7"/>
<line x1="776.35" y1="421.23" x2="782.75" y2="421.23" stroke="#999" stroke-width="0.95"/>
<line x1="776.35" y1="478.45" x2="782.75" y2="478.45" stroke="#0b4a0b" stroke-width="0.9"/>
<line x1="779.55" y1="564.7" x2="779.55" y2="566.7" stroke="#888" stroke-width="0.6"/>
<text transform="translate(782.55,569.6) rotate(-90)" font-family="'Liberation Sans', sans-serif" font-size="6.85" fill="#2a2a2a" text-anchor="end">Linalool</text>
<rect x="787.74" y="450.26" width="10.3" height="71.74" fill="url(#barg)" stroke="#0a7000" stroke-width="0.35"/>
<line x1="792.89" y1="427.63" x2="792.89" y2="450.26" stroke="#b4b4b4" stroke-width="1.05"/>
<line x1="792.89" y1="450.26" x2="792.89" y2="471.61" stroke="#0b5a0b" stroke-width="0.7"/>
<line x1="789.69" y1="427.63" x2="796.09" y2="427.63" stroke="#999" stroke-width="0.95"/>
<line x1="789.69" y1="471.61" x2="796.09" y2="471.61" stroke="#0b4a0b" stroke-width="0.9"/>
<line x1="792.89" y1="564.7" x2="792.89" y2="566.7" stroke="#888" stroke-width="0.6"/>
<text transform="translate(795.89,569.6) rotate(-90)" font-family="'Liberation Sans', sans-serif" font-size="6.85" fill="#2a2a2a" text-anchor="end">alpha-terpinolene</text>
<rect x="801.07" y="450.26" width="10.3" height="71.74" fill="url(#barg)" stroke="#0a7000" stroke-width="0.35"/>
<line x1="806.22" y1="422.51" x2="806.22" y2="450.26" stroke="#b4b4b4" stroke-width="1.05"/>
<line x1="806.22" y1="450.26" x2="806.22" y2="478.02" stroke="#0b5a0b" stroke-width="0.7"/>
<line x1="803.02" y1="422.51" x2="809.42" y2="422.51" stroke="#999" stroke-width="0.95"/>
<line x1="803.02" y1="478.02" x2="809.42" y2="478.02" stroke="#0b4a0b" stroke-width="0.9"/>
<line x1="806.22" y1="564.7" x2="806.22" y2="566.7" stroke="#888" stroke-width="0.6"/>
<text transform="translate(809.22,569.6) rotate(-90)" font-family="'Liberation Sans', sans-serif" font-size="6.85" fill="#2a2a2a" text-anchor="end">Octanal</text>
<rect x="814.40" y="450.26" width="10.3" height="71.74" fill="url(#barg)" stroke="#0a7000" stroke-width="0.35"/>
<line x1="819.55" y1="410.55" x2="819.55" y2="450.26" stroke="#b4b4b4" stroke-width="1.05"/>
<line x1="819.55" y1="450.26" x2="819.55" y2="489.55" stroke="#0b5a0b" stroke-width="0.7"/>
<line x1="816.35" y1="410.55" x2="822.75" y2="410.55" stroke="#999" stroke-width="0.95"/>
<line x1="816.35" y1="489.55" x2="822.75" y2="489.55" stroke="#0b4a0b" stroke-width="0.9"/>
<line x1="819.55" y1="564.7" x2="819.55" y2="566.7" stroke="#888" stroke-width="0.6"/>
<text transform="translate(822.55,569.6) rotate(-90)" font-family="'Liberation Sans', sans-serif" font-size="6.85" fill="#2a2a2a" text-anchor="end">ortho-Guaiacol</text>
<rect x="827.74" y="450.26" width="10.3" height="71.74" fill="url(#barg)" stroke="#0a7000" stroke-width="0.35"/>
<line x1="832.88" y1="410.55" x2="832.88" y2="450.26" stroke="#b4b4b4" stroke-width="1.05"/>
<line x1="832.88" y1="450.26" x2="832.88" y2="489.98" stroke="#0b5a0b" stroke-width="0.7"/>
<line x1="829.68" y1="410.55" x2="836.09" y2="410.55" stroke="#999" stroke-width="0.95"/>
<line x1="829.68" y1="489.98" x2="836.09" y2="489.98" stroke="#0b4a0b" stroke-width="0.9"/>
<line x1="832.88" y1="564.7" x2="832.88" y2="566.7" stroke="#888" stroke-width="0.6"/>
<text transform="translate(835.88,569.6) rotate(-90)" font-family="'Liberation Sans', sans-serif" font-size="6.85" fill="#2a2a2a" text-anchor="end">1,8-Cineole-M</text>
<rect x="841.07" y="451.12" width="10.3" height="70.88" fill="url(#barg)" stroke="#0a7000" stroke-width="0.35"/>
<line x1="846.22" y1="399.45" x2="846.22" y2="451.12" stroke="#b4b4b4" stroke-width="1.05"/>
<line x1="846.22" y1="451.12" x2="846.22" y2="502.36" stroke="#0b5a0b" stroke-width="0.7"/>
<line x1="843.02" y1="399.45" x2="849.42" y2="399.45" stroke="#999" stroke-width="0.95"/>
<line x1="843.02" y1="502.36" x2="849.42" y2="502.36" stroke="#0b4a0b" stroke-width="0.9"/>
<line x1="846.22" y1="564.7" x2="846.22" y2="566.7" stroke="#888" stroke-width="0.6"/>
<text transform="translate(849.22,569.6) rotate(-90)" font-family="'Liberation Sans', sans-serif" font-size="6.85" fill="#2a2a2a" text-anchor="end">camphene</text>
<rect x="854.40" y="451.55" width="10.3" height="70.45" fill="url(#barg)" stroke="#0a7000" stroke-width="0.35"/>
<line x1="859.55" y1="397.74" x2="859.55" y2="451.55" stroke="#b4b4b4" stroke-width="1.05"/>
<line x1="859.55" y1="451.55" x2="859.55" y2="504.49" stroke="#0b5a0b" stroke-width="0.7"/>
<line x1="856.35" y1="397.74" x2="862.75" y2="397.74" stroke="#999" stroke-width="0.95"/>
<line x1="856.35" y1="504.49" x2="862.75" y2="504.49" stroke="#0b4a0b" stroke-width="0.9"/>
<line x1="859.55" y1="564.7" x2="859.55" y2="566.7" stroke="#888" stroke-width="0.6"/>
<text transform="translate(862.55,569.6) rotate(-90)" font-family="'Liberation Sans', sans-serif" font-size="6.85" fill="#2a2a2a" text-anchor="end">Menthol</text>
<rect x="867.73" y="451.97" width="10.3" height="70.03" fill="url(#barg)" stroke="#0a7000" stroke-width="0.35"/>
<line x1="872.88" y1="400.73" x2="872.88" y2="451.97" stroke="#b4b4b4" stroke-width="1.05"/>
<line x1="872.88" y1="451.97" x2="872.88" y2="502.36" stroke="#0b5a0b" stroke-width="0.7"/>
<line x1="869.68" y1="400.73" x2="876.08" y2="400.73" stroke="#999" stroke-width="0.95"/>
<line x1="869.68" y1="502.36" x2="876.08" y2="502.36" stroke="#0b4a0b" stroke-width="0.9"/>
<line x1="872.88" y1="564.7" x2="872.88" y2="566.7" stroke="#888" stroke-width="0.6"/>
<text transform="translate(875.88,569.6) rotate(-90)" font-family="'Liberation Sans', sans-serif" font-size="6.85" fill="#2a2a2a" text-anchor="end">1</text>
<rect x="881.07" y="452.83" width="10.3" height="69.17" fill="url(#barg)" stroke="#0a7000" stroke-width="0.35"/>
<line x1="886.22" y1="381.52" x2="886.22" y2="452.83" stroke="#b4b4b4" stroke-width="1.05"/>
<line x1="886.22" y1="452.83" x2="886.22" y2="523.28" stroke="#0b5a0b" stroke-width="0.7"/>
<line x1="883.02" y1="381.52" x2="889.42" y2="381.52" stroke="#999" stroke-width="0.95"/>
<line x1="883.02" y1="523.28" x2="889.42" y2="523.28" stroke="#0b4a0b" stroke-width="0.9"/>
<line x1="886.22" y1="564.7" x2="886.22" y2="566.7" stroke="#888" stroke-width="0.6"/>
<text transform="translate(889.22,569.6) rotate(-90)" font-family="'Liberation Sans', sans-serif" font-size="6.85" fill="#2a2a2a" text-anchor="end">1,2,4,5-tetramethylbenzene</text>
<rect x="894.40" y="454.53" width="10.3" height="67.47" fill="url(#barg)" stroke="#0a7000" stroke-width="0.35"/>
<line x1="899.55" y1="419.52" x2="899.55" y2="454.53" stroke="#b4b4b4" stroke-width="1.05"/>
<line x1="899.55" y1="454.53" x2="899.55" y2="489.55" stroke="#0b5a0b" stroke-width="0.7"/>
<line x1="896.35" y1="419.52" x2="902.75" y2="419.52" stroke="#999" stroke-width="0.95"/>
<line x1="896.35" y1="489.55" x2="902.75" y2="489.55" stroke="#0b4a0b" stroke-width="0.9"/>
<line x1="899.55" y1="564.7" x2="899.55" y2="566.7" stroke="#888" stroke-width="0.6"/>
<text transform="translate(902.55,569.6) rotate(-90)" font-family="'Liberation Sans', sans-serif" font-size="6.85" fill="#2a2a2a" text-anchor="end">2-Cyclopenten-1-one, 3-methyl-</text>
<rect x="907.73" y="454.96" width="10.3" height="67.04" fill="url(#barg)" stroke="#0a7000" stroke-width="0.35"/>
<line x1="912.88" y1="426.35" x2="912.88" y2="454.96" stroke="#b4b4b4" stroke-width="1.05"/>
<line x1="912.88" y1="454.96" x2="912.88" y2="483.57" stroke="#0b5a0b" stroke-width="0.7"/>
<line x1="909.68" y1="426.35" x2="916.08" y2="426.35" stroke="#999" stroke-width="0.95"/>
<line x1="909.68" y1="483.57" x2="916.08" y2="483.57" stroke="#0b4a0b" stroke-width="0.9"/>
<line x1="912.88" y1="564.7" x2="912.88" y2="566.7" stroke="#888" stroke-width="0.6"/>
<text transform="translate(915.88,569.6) rotate(-90)" font-family="'Liberation Sans', sans-serif" font-size="6.85" fill="#2a2a2a" text-anchor="end">Nonanal</text>
<text x="564.9" y="672.8" font-family="'Liberation Sans', sans-serif" font-size="7" fill="#222" textLength="16.3" lengthAdjust="spacingAndGlyphs">VOCs</text>
<text x="828.4" y="678" font-family="'Liberation Sans', sans-serif" font-size="5.2" fill="#999" textLength="100.9" lengthAdjust="spacingAndGlyphs">SIMCA 14.1 - 2025/3/11 10:03:15 (UTC+8)</text>
<text x="22" y="718" font-family="&quot;Liberation Sans&quot;, sans-serif" font-size="16" font-weight="bold" fill="#111" textLength="37" lengthAdjust="spacingAndGlyphs">Fig. 5</text>
<text x="69.6" y="718" font-family="&quot;Liberation Serif&quot;, serif" font-size="18" fill="#111" textLength="739" lengthAdjust="spacingAndGlyphs">OPLS-DA model of bloodstains at different ages: (<tspan font-weight="bold">a</tspan>) score plot, (<tspan font-weight="bold">b</tspan>) permutation test plot, (<tspan font-weight="bold">c</tspan>) VIP plot</text>
<text x="21.6" y="292.6" font-family="&quot;Liberation Serif&quot;, serif" font-size="19" fill="#111" textLength="20" lengthAdjust="spacingAndGlyphs">(a)</text>
<text x="556.6" y="292.6" font-family="&quot;Liberation Serif&quot;, serif" font-size="19" fill="#111" textLength="20.6" lengthAdjust="spacingAndGlyphs">(b)</text>
<text x="197.3" y="674.2" font-family="&quot;Liberation Serif&quot;, serif" font-size="19" fill="#111" textLength="20.2" lengthAdjust="spacingAndGlyphs">(c)</text>
</svg></body></html>
